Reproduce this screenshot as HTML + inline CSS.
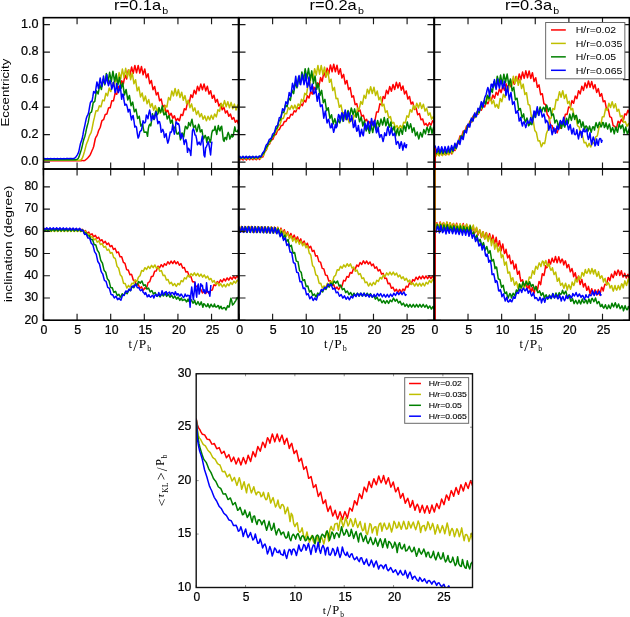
<!DOCTYPE html>
<html><head><meta charset="utf-8"><style>
html,body{margin:0;padding:0;background:#fff;}
svg{display:block;will-change:transform;}
text{font-family:"Liberation Sans",sans-serif;fill:#000;}
.sf{font-family:"Liberation Serif",serif;}
</style></head><body>
<svg width="630" height="617" viewBox="0 0 630 617">
<rect width="630" height="617" fill="#fff"/>
<defs>
<clipPath id="ct0"><rect x="43.45" y="17.67" width="195.0" height="151.32999999999998"/></clipPath>
<clipPath id="cm0"><rect x="43.45" y="169.0" width="195.0" height="151.2"/></clipPath>
<clipPath id="ct1"><rect x="239.0" y="17.67" width="195.0" height="151.32999999999998"/></clipPath>
<clipPath id="cm1"><rect x="239.0" y="169.0" width="195.0" height="151.2"/></clipPath>
<clipPath id="ct2"><rect x="434.4" y="17.67" width="195.0" height="151.32999999999998"/></clipPath>
<clipPath id="cm2"><rect x="434.4" y="169.0" width="195.0" height="151.2"/></clipPath>
<clipPath id="cb"><rect x="196.2" y="373.75" width="276.3" height="213.75"/></clipPath>
</defs>
<polyline points="43.45,160.75 43.45,160.75 44.27,160.76 45.10,160.75 45.92,160.73 46.74,160.75 47.57,160.76 48.39,160.75 49.22,160.73 50.04,160.74 50.86,160.76 51.69,160.74 52.51,160.72 53.33,160.74 54.16,160.76 54.98,160.74 55.81,160.72 56.63,160.74 57.45,160.76 58.28,160.74 59.10,160.72 59.92,160.73 60.75,160.75 61.57,160.73 62.40,160.71 63.22,160.73 64.04,160.75 64.87,160.72 65.69,160.70 66.51,160.72 67.34,160.74 68.16,160.71 68.98,160.69 69.81,160.71 70.63,160.72 71.46,160.70 72.28,160.67 73.10,160.69 73.93,160.71 74.75,160.68 75.57,160.66 76.40,160.67 77.22,160.69 78.05,160.66 78.87,160.63 79.69,160.65 80.52,160.66 81.34,160.64 82.16,160.61 82.99,160.62 83.81,160.64 84.64,160.59 85.46,160.01 86.28,159.23 87.11,158.57 87.93,157.75 88.75,156.78 89.58,155.77 90.40,154.37 91.22,152.45 92.05,150.45 92.87,148.70 93.70,146.52 94.52,142.52 95.34,138.50 96.17,136.76 96.99,135.62 97.81,133.21 98.64,130.48 99.46,128.93 100.29,127.21 101.11,123.73 101.93,120.69 102.76,120.05 103.58,119.66 104.40,117.11 105.23,114.51 106.05,114.26 106.88,114.06 107.70,111.15 108.52,108.03 109.35,107.80 110.17,107.71 110.99,104.33 111.82,100.74 112.64,100.71 113.47,100.89 114.29,97.16 115.11,93.26 115.94,93.66 116.76,94.33 117.58,90.47 118.41,86.53 119.23,87.64 120.05,88.95 120.88,84.91 121.70,80.69 122.53,82.18 123.35,83.87 124.17,79.52 125.00,74.98 125.82,76.86 126.64,79.02 127.47,74.53 128.29,70.05 129.12,72.72 129.94,75.54 130.76,71.26 131.59,67.04 132.41,70.14 133.23,73.33 134.06,69.27 134.88,65.40 135.71,69.12 136.53,72.84 137.35,69.12 138.18,65.40 139.00,69.20 139.82,73.14 140.65,69.78 141.47,66.52 142.29,70.64 143.12,74.77 143.94,71.76 144.77,68.92 145.59,73.36 146.41,77.83 147.24,75.57 148.06,73.74 148.88,78.81 149.71,83.70 150.53,81.99 151.36,80.43 152.18,85.13 153.00,89.66 153.83,88.06 154.65,86.51 155.47,90.76 156.30,94.93 157.12,93.59 157.95,92.45 158.77,96.70 159.59,100.85 160.42,99.87 161.24,99.03 162.06,103.05 162.89,106.91 163.71,106.09 164.53,105.32 165.36,108.89 166.18,112.25 167.01,111.29 167.83,110.23 168.65,113.05 169.48,115.73 170.30,114.49 171.12,113.29 171.95,115.81 172.77,118.23 173.60,116.99 174.42,115.79 175.24,118.26 176.07,120.78 176.89,119.76 177.71,118.46 178.54,119.93 179.36,120.75 180.19,117.69 181.01,114.38 181.83,114.87 182.66,115.52 183.48,112.21 184.30,108.72 185.13,109.26 185.95,109.82 186.78,105.86 187.60,101.71 188.42,102.27 189.25,103.08 190.07,98.99 190.89,94.84 191.72,96.04 192.54,97.56 193.36,93.85 194.19,90.16 195.01,92.06 195.84,94.02 196.66,90.25 197.48,86.34 198.31,88.37 199.13,90.69 199.95,87.36 200.78,84.08 201.60,86.87 202.43,89.76 203.25,86.77 204.07,84.00 204.90,87.42 205.72,90.90 206.54,88.50 207.37,86.30 208.19,90.19 209.02,94.14 209.84,92.44 210.66,90.76 211.49,94.59 212.31,98.35 213.13,96.77 213.96,95.23 214.78,98.79 215.60,102.25 216.43,100.73 217.25,99.29 218.08,102.72 218.90,106.10 219.72,104.80 220.55,103.54 221.37,106.71 222.19,109.74 223.02,108.38 223.84,107.09 224.67,110.06 225.49,112.99 226.31,111.84 227.14,110.74 227.96,113.55 228.78,116.26 229.61,115.12 230.43,114.04 231.26,116.67 232.08,119.27 232.90,118.34 233.73,117.47 234.55,119.98 235.37,122.32 236.20,121.30 237.02,120.30 237.84,122.47 238.67,124.55 239.49,123.45 239.79,122.76" fill="none" stroke="#ff0000" stroke-width="1.5" stroke-linejoin="round" clip-path="url(#ct0)"/>
<polyline points="43.45,160.20 44.13,160.20 44.96,160.23 45.78,160.20 46.60,160.16 47.43,160.20 48.25,160.23 49.07,160.20 49.90,160.16 50.72,160.20 51.55,160.23 52.37,160.20 53.19,160.16 54.02,160.20 54.84,160.23 55.66,160.20 56.49,160.16 57.31,160.20 58.13,160.23 58.96,160.20 59.78,160.16 60.61,160.20 61.43,160.23 62.25,160.20 63.08,160.16 63.90,160.20 64.72,160.23 65.55,160.20 66.37,160.16 67.20,160.20 68.02,160.23 68.84,160.20 69.67,160.16 70.49,160.20 71.31,160.23 72.14,160.20 72.96,160.16 73.79,160.20 74.61,160.23 75.43,160.20 76.26,160.16 77.08,160.20 77.90,160.23 78.73,160.20 79.55,160.16 80.37,160.15 81.20,159.63 82.02,158.58 82.85,156.87 83.67,154.18 84.49,151.50 85.32,148.32 86.14,145.06 86.96,142.82 87.79,140.91 88.61,138.23 89.44,135.62 90.26,134.12 91.08,132.58 91.91,129.38 92.73,125.14 93.55,120.94 94.38,117.64 95.20,113.94 96.03,110.70 96.85,110.65 97.67,111.06 98.50,108.52 99.32,105.80 100.14,106.27 100.97,106.82 101.79,103.61 102.61,100.12 103.44,100.45 104.26,100.84 105.09,97.03 105.91,93.25 106.73,94.42 107.56,95.84 108.38,92.03 109.20,88.05 110.03,89.71 110.85,91.58 111.68,87.40 112.50,82.95 113.32,84.81 114.15,86.89 114.97,82.14 115.79,77.28 116.62,79.80 117.44,82.60 118.27,77.69 119.09,72.60 119.91,75.64 120.74,78.94 121.56,73.84 122.38,69.05 123.21,73.17 124.03,77.37 124.85,72.80 125.68,68.29 126.50,72.73 127.33,77.42 128.15,73.50 128.97,69.74 129.80,74.69 130.62,79.65 131.44,76.17 132.27,72.92 133.09,78.24 133.92,83.84 134.74,81.62 135.56,79.69 136.39,85.38 137.21,90.84 138.03,88.88 138.86,87.02 139.68,92.10 140.51,96.95 141.33,94.96 142.15,92.92 142.98,97.14 143.80,101.07 144.62,98.55 145.45,96.07 146.27,99.88 147.10,103.74 147.92,101.58 148.74,99.54 149.57,103.38 150.39,107.16 151.21,105.28 152.04,103.44 152.86,106.96 153.68,110.18 154.51,107.90 155.33,105.59 156.16,108.61 156.98,111.62 157.80,109.49 158.63,107.44 159.45,110.44 160.27,113.20 161.10,110.65 161.92,108.01 162.75,110.40 163.57,112.76 164.39,109.64 165.22,105.50 166.04,106.19 166.86,107.05 167.69,102.43 168.51,97.50 169.34,98.65 170.16,100.16 170.98,95.57 171.81,91.08 172.63,93.34 173.45,95.91 174.28,92.00 175.10,88.52 175.92,92.14 176.75,95.84 177.57,92.70 178.40,89.62 179.22,93.52 180.04,97.49 180.87,94.82 181.69,92.24 182.51,96.25 183.34,100.24 184.16,97.85 184.99,95.60 185.81,99.68 186.63,103.80 187.46,101.91 188.28,100.09 189.10,103.99 189.93,107.70 190.75,105.72 191.58,103.83 192.40,107.48 193.22,111.12 194.05,109.47 194.87,107.89 195.69,111.31 196.52,114.52 197.34,112.69 198.16,110.88 198.99,113.90 199.81,116.89 200.64,115.22 201.46,113.61 202.28,116.52 203.11,119.27 203.93,117.57 204.75,115.89 205.58,118.45 206.40,120.79 207.23,118.59 208.05,116.23 208.87,118.12 209.70,120.02 210.52,117.61 211.34,115.23 212.17,117.27 212.99,119.29 213.82,116.75 214.64,113.94 215.46,115.44 216.29,116.86 217.11,113.49 217.93,109.76 218.76,110.51 219.58,111.33 220.40,107.07 221.23,103.19 222.05,105.03 222.88,107.07 223.70,103.66 224.52,100.63 225.35,103.67 226.17,106.83 226.99,104.26 227.82,101.66 228.64,104.69 229.47,107.68 230.29,105.01 231.11,102.39 231.94,105.48 232.76,108.69 233.58,106.40 234.41,104.11 235.23,107.13 236.06,110.05 236.88,107.54 237.70,105.02 238.53,107.84 239.35,110.59 239.79,109.69" fill="none" stroke="#bfbf00" stroke-width="1.5" stroke-linejoin="round" clip-path="url(#ct0)"/>
<polyline points="43.45,159.65 43.73,159.59 44.55,159.65 45.37,159.70 46.20,159.65 47.02,159.59 47.85,159.65 48.67,159.70 49.49,159.65 50.32,159.59 51.14,159.65 51.96,159.70 52.79,159.65 53.61,159.59 54.44,159.65 55.26,159.70 56.08,159.65 56.91,159.59 57.73,159.65 58.55,159.70 59.38,159.65 60.20,159.59 61.03,159.65 61.85,159.70 62.67,159.65 63.50,159.59 64.32,159.65 65.14,159.70 65.97,159.65 66.79,159.59 67.62,159.65 68.44,159.70 69.26,159.65 70.09,159.59 70.91,159.65 71.73,159.70 72.56,159.65 73.38,159.59 74.20,159.65 75.03,159.70 75.85,159.65 76.68,159.55 77.50,159.04 78.32,158.21 79.15,156.39 79.97,153.80 80.79,151.35 81.62,148.61 82.44,145.14 83.27,141.29 84.09,138.45 84.91,136.20 85.74,132.69 86.56,128.45 87.38,125.22 88.21,122.40 89.03,117.85 89.86,113.39 90.68,112.42 91.50,112.13 92.33,108.01 93.15,102.99 93.97,102.00 94.80,101.47 95.62,95.84 96.44,90.83 97.27,92.18 98.09,94.07 98.92,89.62 99.74,84.81 100.56,87.01 101.39,89.56 102.21,84.51 103.03,79.17 103.86,81.91 104.68,84.88 105.51,79.12 106.33,73.46 107.15,77.84 107.98,82.51 108.80,77.40 109.62,72.28 110.45,76.99 111.27,81.65 112.10,76.38 112.92,71.18 113.74,76.20 114.57,81.70 115.39,77.62 116.21,73.80 117.04,79.61 117.86,85.12 118.68,81.09 119.51,77.18 120.33,82.73 121.16,88.42 121.98,85.51 122.80,83.07 123.63,89.29 124.45,95.00 125.27,92.19 126.10,89.46 126.92,94.72 127.75,99.94 128.57,97.57 129.39,95.44 130.22,100.67 131.04,105.74 131.86,103.84 132.69,102.13 133.51,107.04 134.34,111.80 135.16,110.39 135.98,109.23 136.81,113.92 137.63,118.53 138.45,117.64 139.28,116.24 140.10,121.99 140.92,126.23 141.75,125.23 142.57,123.65 143.40,129.02 144.22,132.34 145.04,132.21 145.87,131.93 146.69,132.49 147.51,136.33 148.34,128.55 149.16,125.13 149.99,124.10 150.81,125.93 151.63,120.12 152.46,113.75 153.28,117.67 154.10,119.67 154.93,114.71 155.75,111.04 156.58,113.28 157.40,114.71 158.22,112.93 159.05,107.72 159.87,110.45 160.69,112.31 161.52,109.16 162.34,105.71 163.17,111.91 163.99,114.87 164.81,114.42 165.64,112.04 166.46,115.14 167.28,119.10 168.11,116.91 168.93,115.53 169.75,119.08 170.58,123.20 171.40,120.79 172.23,119.92 173.05,126.38 173.87,128.65 174.70,127.11 175.52,127.13 176.34,132.34 177.17,134.09 177.99,134.01 178.82,132.18 179.64,134.74 180.46,139.81 181.29,136.05 182.11,132.86 182.93,134.27 183.76,137.01 184.58,130.72 185.41,126.20 186.23,127.06 187.05,128.95 187.88,127.70 188.70,122.40 189.52,124.68 190.35,125.84 191.17,121.87 191.99,119.28 192.82,124.28 193.64,127.87 194.47,126.82 195.29,125.34 196.11,129.46 196.94,131.63 197.76,128.24 198.58,124.29 199.41,126.21 200.23,131.90 201.06,131.13 201.88,129.69 202.70,134.94 203.53,139.03 204.35,137.23 205.17,135.32 206.00,137.49 206.82,142.44 207.65,137.43 208.47,136.76 209.29,139.39 210.12,142.59 210.94,139.51 211.76,133.21 212.59,130.23 213.41,130.59 214.23,130.13 215.06,126.16 215.88,130.45 216.71,134.47 217.53,129.50 218.35,125.59 219.18,129.39 220.00,130.90 220.82,127.25 221.65,126.21 222.47,132.71 223.30,139.97 224.12,141.45 224.94,137.46 225.77,137.48 226.59,139.66 227.41,134.69 228.24,132.38 229.06,134.79 229.89,139.04 230.71,136.92 231.53,134.57 232.36,136.99 233.18,136.15 234.00,131.48 234.83,126.88 235.65,131.16 236.47,131.40 237.30,131.70 238.12,129.69 238.95,134.92 239.77,139.57 239.79,140.57" fill="none" stroke="#008000" stroke-width="1.5" stroke-linejoin="round" clip-path="url(#ct0)"/>
<polyline points="43.45,158.68 44.20,158.61 45.02,158.68 45.85,158.76 46.67,158.68 47.49,158.61 48.32,158.68 49.14,158.75 49.97,158.68 50.79,158.60 51.61,158.68 52.44,158.75 53.26,158.68 54.08,158.60 54.91,158.67 55.73,158.74 56.56,158.67 57.38,158.59 58.20,158.66 59.03,158.73 59.85,158.66 60.67,158.58 61.50,158.65 62.32,158.72 63.14,158.64 63.97,158.56 64.79,158.63 65.62,158.70 66.44,158.62 67.26,158.53 68.09,158.60 68.91,158.67 69.73,158.59 70.56,158.50 71.38,158.57 72.21,158.64 73.03,158.55 73.85,158.45 74.68,158.11 75.50,157.42 76.32,156.40 77.15,155.12 77.97,153.73 78.80,151.54 79.62,147.57 80.44,143.65 81.27,141.31 82.09,139.11 82.91,134.99 83.74,130.18 84.56,126.79 85.38,122.70 86.21,118.80 87.03,116.17 87.86,115.02 88.68,112.28 89.50,107.49 90.33,102.85 91.15,101.24 91.97,101.61 92.80,96.92 93.62,91.53 94.45,92.14 95.27,93.23 96.09,87.47 96.92,81.92 97.74,85.04 98.56,88.50 99.39,82.55 100.21,77.92 101.04,83.41 101.86,86.45 102.68,81.36 103.51,76.07 104.33,81.16 105.15,83.88 105.98,80.30 106.80,74.49 107.62,81.99 108.45,85.67 109.27,83.17 110.10,80.26 110.92,83.81 111.74,89.24 112.57,86.40 113.39,82.22 114.21,86.11 115.04,92.78 115.86,90.34 116.69,83.39 117.51,88.51 118.33,92.63 119.16,90.55 119.98,85.20 120.80,90.80 121.63,99.28 122.45,94.15 123.28,94.46 124.10,100.98 124.92,105.31 125.75,104.17 126.57,104.63 127.39,107.58 128.22,112.07 129.04,109.44 129.86,109.50 130.69,115.81 131.51,119.89 132.34,116.45 133.16,115.51 133.98,121.00 134.81,127.12 135.63,126.17 136.45,126.96 137.28,133.29 138.10,138.05 138.93,136.35 139.75,132.03 140.57,130.92 141.40,130.50 142.22,126.38 143.04,120.84 143.87,122.55 144.69,122.95 145.52,121.82 146.34,115.09 147.16,116.36 147.99,118.76 148.81,113.42 149.63,110.08 150.46,113.82 151.28,120.78 152.11,117.70 152.93,115.34 153.75,119.00 154.58,118.54 155.40,114.27 156.22,112.07 157.05,118.51 157.87,123.66 158.69,121.40 159.52,121.68 160.34,124.91 161.17,132.33 161.99,130.89 162.81,129.39 163.64,131.91 164.46,137.48 165.28,135.18 166.11,133.57 166.93,139.03 167.76,143.13 168.58,140.83 169.40,136.68 170.23,132.13 171.05,132.50 171.87,130.71 172.70,124.99 173.52,129.72 174.35,134.22 175.17,130.16 175.99,121.83 176.82,122.44 177.64,124.25 178.46,123.48 179.29,125.91 180.11,134.16 180.93,138.32 181.76,133.68 182.58,135.68 183.41,139.06 184.23,144.45 185.05,140.94 185.88,139.64 186.70,143.25 187.52,152.35 188.35,148.16 189.17,149.29 190.00,151.09 190.82,155.43 191.64,143.42 192.47,130.89 193.29,128.75 194.11,130.70 194.94,134.98 195.76,135.20 196.59,138.88 197.41,144.71 198.23,143.51 199.06,142.01 199.88,144.20 200.70,144.86 201.53,140.30 202.35,136.02 203.17,143.70 204.00,155.25 204.82,156.99 205.65,147.97 206.47,146.55 207.29,144.26 208.12,141.70 208.94,144.56 209.76,149.30 210.59,154.92 211.41,145.71 211.89,141.64" fill="none" stroke="#0000ff" stroke-width="1.5" stroke-linejoin="round" clip-path="url(#ct0)"/>
<polyline points="239.00,159.09 239.00,159.09 239.82,159.89 240.65,159.09 241.47,158.29 242.29,159.09 243.12,159.88 243.94,159.08 244.77,158.27 245.59,159.07 246.41,159.86 247.24,159.05 248.06,158.23 248.88,159.02 249.71,159.81 250.53,158.99 251.36,158.17 252.18,158.95 253.00,159.73 253.83,158.90 254.65,158.07 255.47,158.84 256.30,159.61 257.12,158.78 257.95,157.94 258.77,158.70 259.59,159.42 260.42,158.30 261.24,156.95 262.06,157.06 262.89,156.99 263.71,154.70 264.53,152.13 265.36,151.27 266.18,150.31 267.01,147.74 267.83,145.28 268.65,144.64 269.48,144.18 270.30,142.21 271.12,140.27 271.95,139.87 272.77,139.42 273.60,137.35 274.42,135.28 275.24,134.81 276.07,134.35 276.89,132.27 277.71,130.21 278.54,129.81 279.36,129.48 280.19,127.61 281.01,125.79 281.83,125.59 282.66,125.38 283.48,123.52 284.30,121.59 285.13,121.46 285.95,121.46 286.77,119.60 287.60,117.72 288.42,117.93 289.25,118.22 290.07,116.28 290.89,114.27 291.72,114.63 292.54,115.07 293.36,112.98 294.19,110.79 295.01,111.28 295.84,111.86 296.66,109.61 297.48,107.29 298.31,108.02 299.13,108.83 299.95,106.43 300.78,103.93 301.60,104.81 302.43,105.76 303.25,103.10 304.07,100.28 304.90,101.13 305.72,102.05 306.54,98.97 307.37,95.81 308.19,96.87 309.02,98.06 309.84,94.80 310.66,91.42 311.49,92.75 312.31,94.20 313.13,90.72 313.96,87.11 314.78,88.68 315.60,90.40 316.43,86.65 317.25,82.74 318.08,84.47 318.90,86.27 319.72,82.02 320.55,77.58 321.37,79.48 322.19,81.49 323.02,76.82 323.84,72.06 324.67,74.38 325.49,76.96 326.31,72.53 327.14,68.12 327.96,70.99 328.78,73.93 329.61,69.44 330.43,64.94 331.26,68.16 332.08,71.78 332.90,68.02 333.73,64.26 334.55,68.02 335.37,71.78 336.20,68.31 337.02,65.30 337.84,69.81 338.67,74.21 339.49,71.36 340.32,68.68 341.14,73.30 341.96,78.06 342.79,76.09 343.61,74.36 344.43,79.33 345.26,84.04 346.08,82.19 346.91,80.44 347.73,85.04 348.55,89.65 349.38,88.41 350.20,87.51 351.02,92.41 351.85,97.14 352.67,96.40 353.50,95.85 354.32,100.37 355.14,104.67 355.97,104.11 356.79,103.66 357.61,107.64 358.44,111.36 359.26,110.71 360.08,110.08 360.91,113.37 361.73,116.50 362.56,115.79 363.38,115.17 364.20,118.15 365.03,120.96 365.85,120.20 366.67,119.37 367.50,121.80 368.32,124.05 369.15,122.94 369.97,121.64 370.79,123.40 371.62,125.09 372.44,123.60 373.26,121.42 374.09,121.31 374.91,120.70 375.74,116.40 376.56,112.08 377.38,112.00 378.21,112.10 379.03,108.03 379.85,103.87 380.68,104.25 381.50,104.80 382.33,100.64 383.15,96.43 383.97,97.39 384.80,98.50 385.62,94.39 386.44,90.31 387.27,91.96 388.09,93.87 388.91,90.19 389.74,86.54 390.56,88.80 391.39,91.20 392.21,87.79 393.03,84.39 393.86,86.97 394.68,89.55 395.50,85.96 396.33,82.34 397.15,85.03 397.98,88.05 398.80,85.23 399.62,82.69 400.45,86.41 401.27,90.15 402.09,87.91 402.92,85.94 403.74,90.00 404.57,94.03 405.39,92.40 406.21,90.94 407.04,95.02 407.86,99.00 408.68,97.70 409.51,96.48 410.33,100.30 411.15,104.03 411.98,102.97 412.80,102.08 413.63,105.84 414.45,109.49 415.27,108.74 416.10,108.04 416.92,111.46 417.74,114.73 418.57,114.06 419.39,113.50 420.22,116.71 421.04,119.83 421.86,119.38 422.69,118.95 423.51,121.98 424.33,124.92 425.16,124.44 425.98,123.35 426.81,124.79 427.63,126.15 428.45,124.46 429.28,122.71 430.10,123.97 430.92,125.14 431.75,123.07 432.57,120.83 433.39,121.65 434.22,122.43 435.04,119.84 435.34,118.54" fill="none" stroke="#ff0000" stroke-width="1.5" stroke-linejoin="round" clip-path="url(#ct1)"/>
<polyline points="239.00,158.27 239.68,158.27 240.51,159.07 241.33,158.27 242.15,157.47 242.98,158.26 243.80,159.06 244.62,158.26 245.45,157.45 246.27,158.25 247.10,159.04 247.92,158.23 248.74,157.42 249.57,158.21 250.39,159.00 251.21,158.19 252.04,157.38 252.86,158.16 253.68,158.94 254.51,158.13 255.33,157.31 256.16,158.09 256.98,158.86 257.80,158.04 258.63,157.21 259.45,157.97 260.27,158.48 261.10,157.15 261.92,155.68 262.75,155.72 263.57,155.36 264.39,153.12 265.22,150.83 266.04,150.00 266.86,149.06 267.69,146.50 268.51,144.01 269.34,143.13 270.16,142.25 270.98,139.82 271.81,137.51 272.63,136.97 273.45,136.56 274.28,134.57 275.10,132.49 275.92,131.83 276.75,131.01 277.57,128.50 278.40,125.91 279.22,125.10 280.04,124.38 280.87,121.66 281.69,118.89 282.51,118.52 283.34,118.44 284.16,115.96 284.99,113.40 285.81,113.57 286.63,113.72 287.46,110.66 288.28,107.56 289.10,108.17 289.93,109.50 290.75,107.47 291.58,105.43 292.40,107.13 293.22,108.98 294.05,107.09 294.87,105.14 295.69,107.09 296.52,109.10 297.34,106.81 298.16,103.94 298.99,105.01 299.81,106.16 300.64,102.87 301.46,99.32 302.28,100.45 303.11,101.64 303.93,97.57 304.75,93.14 305.58,94.09 306.40,95.14 307.23,90.06 308.05,84.35 308.87,84.91 309.70,85.83 310.52,79.94 311.34,74.29 312.17,76.59 312.99,79.30 313.82,73.96 314.64,68.64 315.46,71.72 316.29,75.02 317.11,70.00 317.93,65.45 318.76,69.81 319.58,74.17 320.40,69.81 321.23,65.45 322.05,69.93 322.88,74.63 323.70,70.81 324.52,67.11 325.35,72.04 326.17,77.10 326.99,73.92 327.82,71.01 328.64,76.51 329.47,82.34 330.29,80.63 331.11,79.23 331.94,85.13 332.76,90.57 333.58,88.83 334.41,87.35 335.23,92.86 336.06,98.74 336.88,98.61 337.70,98.35 338.53,103.10 339.35,107.35 340.17,106.04 341.00,104.93 341.82,109.22 342.65,113.50 343.47,112.94 344.29,112.35 345.12,115.97 345.94,119.39 346.76,118.46 347.59,117.47 348.41,120.29 349.23,122.86 350.06,121.41 350.88,119.55 351.71,120.72 352.53,121.77 353.35,118.57 354.18,115.04 355.00,115.67 355.82,116.38 356.65,112.34 357.47,108.05 358.30,108.70 359.12,109.71 359.94,105.64 360.77,101.51 361.59,102.86 362.41,104.32 363.24,99.96 364.06,95.36 364.89,96.80 365.71,98.48 366.53,93.97 367.36,89.20 368.18,91.16 369.00,93.70 369.83,90.17 370.65,86.77 371.47,90.17 372.30,93.57 373.12,90.21 373.95,87.22 374.77,91.32 375.59,95.55 376.42,93.24 377.24,91.03 378.06,95.41 378.89,99.85 379.71,98.21 380.54,96.79 381.36,101.44 382.18,106.05 383.01,105.09 383.83,104.18 384.65,108.41 385.48,112.46 386.30,111.53 387.13,110.71 387.95,114.48 388.77,118.06 389.60,117.24 390.42,116.53 391.24,119.94 392.07,123.31 392.89,122.82 393.71,122.29 394.54,125.06 395.36,127.66 396.19,126.74 397.01,125.64 397.83,127.45 398.66,129.04 399.48,127.27 400.30,125.43 401.13,126.84 401.95,128.19 402.78,125.58 403.60,122.34 404.42,122.50 405.25,122.93 406.07,119.49 406.89,115.84 407.72,116.37 408.54,117.14 409.37,113.47 410.19,109.68 411.01,110.74 411.84,112.15 412.66,108.78 413.48,105.39 414.31,107.23 415.13,109.26 415.95,106.22 416.78,103.22 417.60,105.58 418.43,108.06 419.25,105.30 420.07,102.71 420.90,105.60 421.72,108.56 422.54,106.26 423.37,104.18 424.19,107.63 425.02,111.13 425.84,109.60 426.66,108.17 427.49,111.72 428.31,115.20 429.13,114.01 429.96,112.84 430.78,116.03 431.61,119.11 432.43,117.89 433.25,116.73 434.08,119.62 434.90,122.40 435.34,122.14" fill="none" stroke="#bfbf00" stroke-width="1.5" stroke-linejoin="round" clip-path="url(#ct1)"/>
<polyline points="239.00,157.44 239.28,156.64 240.10,157.44 240.92,158.24 241.75,157.44 242.57,156.64 243.40,157.44 244.22,158.23 245.04,157.43 245.87,156.62 246.69,157.42 247.51,158.21 248.34,157.40 249.16,156.59 249.99,157.38 250.81,158.17 251.63,157.36 252.46,156.54 253.28,157.33 254.10,158.11 254.93,157.29 255.75,156.47 256.58,157.25 257.40,158.03 258.22,157.20 259.05,156.37 259.87,156.99 260.69,157.25 261.52,155.67 262.34,153.97 263.17,153.68 263.99,152.98 264.81,150.58 265.64,148.16 266.46,147.23 267.28,146.31 268.11,143.92 268.93,141.75 269.75,141.35 270.58,141.00 271.40,138.98 272.23,136.77 273.05,136.00 273.87,135.16 274.70,132.54 275.52,129.70 276.34,128.77 277.17,127.93 277.99,124.64 278.82,121.13 279.64,120.42 280.46,119.87 281.29,116.07 282.11,112.15 282.93,112.21 283.76,112.68 284.58,109.00 285.41,105.09 286.23,105.81 287.05,106.74 287.88,102.49 288.70,97.95 289.52,99.06 290.35,100.37 291.17,95.37 291.99,90.06 292.82,91.66 293.64,93.61 294.47,88.05 295.29,82.23 296.11,84.72 296.94,87.78 297.76,82.34 298.58,76.76 299.41,80.43 300.23,84.31 301.06,78.31 301.88,71.97 302.70,76.06 303.53,80.61 304.35,74.65 305.17,68.66 306.00,73.66 306.82,78.90 307.65,73.43 308.47,68.26 309.29,74.19 310.12,80.16 310.94,75.38 311.76,70.87 312.59,77.18 313.41,83.50 314.23,79.56 315.06,76.00 315.88,82.71 316.71,89.32 317.53,86.30 318.35,83.35 319.18,89.49 320.00,95.45 320.82,92.71 321.65,90.36 322.47,96.58 323.30,102.66 324.12,100.93 324.94,99.40 325.77,105.14 326.59,110.74 327.41,109.28 328.24,107.71 329.06,113.09 329.89,118.46 330.71,116.70 331.53,114.67 332.36,119.33 333.18,123.97 334.00,121.50 334.83,118.63 335.65,121.55 336.47,126.05 337.30,122.93 338.12,119.28 338.95,121.64 339.77,122.95 340.59,119.82 341.42,114.92 342.24,116.52 343.06,121.38 343.89,116.36 344.71,112.48 345.54,115.71 346.36,119.56 347.18,114.26 348.01,110.39 348.83,114.18 349.65,117.00 350.48,111.93 351.30,107.96 352.13,110.74 352.95,114.68 353.77,112.07 354.60,108.87 355.42,112.57 356.24,117.35 357.07,113.93 357.89,112.16 358.72,117.33 359.54,121.82 360.36,119.68 361.19,116.85 362.01,121.04 362.83,126.10 363.66,123.11 364.48,120.64 365.30,126.79 366.13,130.97 366.95,128.60 367.78,124.77 368.60,129.72 369.42,133.34 370.25,129.53 371.07,124.77 371.89,128.86 372.72,132.52 373.54,128.10 374.37,123.29 375.19,126.35 376.01,129.53 376.84,123.19 377.66,120.55 378.48,123.72 379.31,126.65 380.13,123.28 380.96,119.10 381.78,121.79 382.60,125.05 383.43,121.74 384.25,117.48 385.07,121.44 385.90,125.75 386.72,123.18 387.54,118.76 388.37,122.90 389.19,127.32 390.02,125.40 390.84,122.01 391.66,127.42 392.49,130.66 393.31,128.85 394.13,126.38 394.96,131.33 395.78,135.84 396.61,131.51 397.43,128.74 398.25,132.97 399.08,135.63 399.90,131.23 400.72,128.79 401.55,131.44 402.37,134.28 403.20,129.25 404.02,125.63 404.84,127.50 405.67,131.19 406.49,125.89 407.31,121.95 408.14,125.81 408.96,128.85 409.78,126.73 410.61,123.81 411.43,127.49 412.26,132.40 413.08,129.55 413.90,127.77 414.73,131.29 415.55,135.78 416.37,134.06 417.20,132.03 418.02,136.13 418.85,138.92 419.67,135.51 420.49,132.50 421.32,134.53 422.14,136.97 422.96,133.58 423.79,129.59 424.61,131.56 425.44,133.87 426.26,129.97 427.08,127.23 427.91,129.41 428.73,132.90 429.55,129.40 430.38,126.13 431.20,129.24 432.02,133.58 432.85,129.76 433.67,127.25 434.50,131.18 435.32,136.96 435.34,136.30" fill="none" stroke="#008000" stroke-width="1.5" stroke-linejoin="round" clip-path="url(#ct1)"/>
<polyline points="239.00,157.17 239.75,156.37 240.57,157.17 241.40,157.97 242.22,157.17 243.04,156.36 243.87,157.16 244.69,157.96 245.52,157.15 246.34,156.35 247.16,157.14 247.99,157.93 248.81,157.12 249.63,156.31 250.46,157.10 251.28,157.89 252.11,157.08 252.93,156.26 253.75,157.04 254.58,157.83 255.40,157.01 256.22,156.18 257.05,156.96 257.87,157.74 258.69,156.91 259.52,156.04 260.34,156.38 261.17,156.39 261.99,154.58 262.81,152.64 263.64,151.65 264.46,150.39 265.28,147.79 266.11,145.25 266.93,144.36 267.76,143.57 268.58,141.32 269.40,139.27 270.23,138.91 271.05,138.53 271.87,136.41 272.70,133.97 273.52,133.26 274.35,132.64 275.17,129.71 275.99,126.48 276.82,125.82 277.64,125.34 278.46,121.65 279.29,117.68 280.11,117.38 280.93,117.37 281.76,113.09 282.58,108.69 283.41,109.51 284.23,110.75 285.05,106.43 285.88,101.67 286.70,102.83 287.52,104.18 288.35,98.54 289.17,92.51 290.00,94.26 290.82,96.35 291.64,89.93 292.47,83.24 293.29,86.23 294.11,89.78 294.94,82.52 295.76,76.22 296.59,83.63 297.41,86.58 298.23,80.62 299.06,75.60 299.88,81.19 300.70,84.69 301.53,79.44 302.35,74.33 303.17,79.08 304.00,84.70 304.82,80.92 305.65,73.94 306.47,81.41 307.29,87.31 308.12,84.81 308.94,77.09 309.76,84.86 310.59,91.30 311.41,88.29 312.24,84.11 313.06,90.96 313.88,93.99 314.71,92.58 315.53,88.11 316.35,93.95 317.18,101.28 318.00,96.96 318.83,93.44 319.65,101.56 320.47,106.62 321.30,105.60 322.12,104.73 322.94,110.82 323.77,118.20 324.59,114.40 325.41,110.89 326.24,117.42 327.06,122.92 327.89,120.17 328.71,119.27 329.53,123.71 330.36,127.81 331.18,127.61 332.00,123.41 332.83,128.22 333.65,132.25 334.48,128.96 335.30,124.45 336.12,127.82 336.95,126.46 337.77,119.14 338.59,114.46 339.42,116.15 340.24,121.12 341.07,116.67 341.89,112.65 342.71,114.50 343.54,120.99 344.36,115.19 345.18,109.92 346.01,113.67 346.83,119.49 347.66,116.17 348.48,112.06 349.30,117.48 350.13,121.57 350.95,119.72 351.77,115.47 352.60,121.26 353.42,127.54 354.24,126.47 355.07,120.24 355.89,126.13 356.72,131.18 357.54,130.20 358.36,125.48 359.19,131.13 360.01,136.59 360.83,132.55 361.66,129.27 362.48,134.11 363.31,135.80 364.13,129.78 364.95,123.61 365.78,126.03 366.60,129.48 367.42,123.89 368.25,121.20 369.07,126.46 369.90,130.05 370.72,124.48 371.54,118.44 372.37,123.02 373.19,125.77 374.01,122.14 374.84,120.11 375.66,128.25 376.48,132.81 377.31,131.18 378.13,126.95 378.96,133.73 379.78,137.43 380.60,134.98 381.43,134.80 382.25,138.13 383.07,141.55 383.90,137.94 384.72,132.86 385.55,135.45 386.37,135.60 387.19,129.30 388.02,126.75 388.84,131.05 389.66,135.14 390.49,132.35 391.31,127.40 392.14,132.44 392.96,135.48 393.78,134.64 394.61,133.22 395.43,138.21 396.25,144.49 397.08,142.76 397.90,141.48 398.72,143.22 399.55,148.34 400.37,145.17 401.20,141.72 402.02,144.92 402.84,150.20 403.67,146.18 404.49,143.00 405.31,146.73 406.14,147.74 406.77,144.02" fill="none" stroke="#0000ff" stroke-width="1.5" stroke-linejoin="round" clip-path="url(#ct1)"/>
<polyline points="434.40,189.64 434.40,189.64 435.22,155.75 436.05,153.73 436.87,151.77 437.69,153.46 438.52,155.19 439.34,153.34 440.17,151.50 440.99,153.26 441.81,155.00 442.64,153.12 443.46,151.26 444.28,153.01 445.11,154.77 445.93,152.92 446.76,151.08 447.58,152.83 448.40,154.57 449.23,152.70 450.05,150.81 450.87,152.49 451.70,154.01 452.52,151.64 453.35,149.05 454.17,149.87 454.99,150.55 455.82,147.54 456.64,144.36 457.46,144.10 458.29,143.52 459.11,139.45 459.93,135.92 460.76,136.36 461.58,136.97 462.41,134.03 463.23,131.04 464.05,131.60 464.88,132.16 465.70,129.12 466.52,126.08 467.35,126.65 468.17,127.22 469.00,124.19 469.82,121.16 470.64,121.71 471.47,122.21 472.29,119.10 473.11,116.06 473.94,116.78 474.76,117.67 475.59,115.06 476.41,112.47 477.23,113.43 478.06,114.27 478.88,111.43 479.70,108.56 480.53,109.34 481.35,110.23 482.17,107.58 483.00,104.97 483.82,105.97 484.65,106.95 485.47,104.31 486.29,101.59 487.12,102.62 487.94,103.73 488.76,100.93 489.59,98.02 490.41,99.21 491.24,100.54 492.06,97.75 492.88,94.97 493.71,96.60 494.53,98.26 495.35,95.33 496.18,92.18 497.00,93.60 497.83,95.13 498.65,91.93 499.47,88.78 500.30,90.67 501.12,92.67 501.94,89.52 502.77,86.26 503.59,88.24 504.42,90.32 505.24,87.01 506.06,83.72 506.89,86.10 507.71,88.58 508.53,85.33 509.36,81.96 510.18,84.30 511.00,86.64 511.83,82.97 512.65,79.23 513.48,81.68 514.30,84.22 515.12,80.45 515.95,76.60 516.77,79.22 517.59,81.89 518.42,77.92 519.24,73.93 520.07,76.81 520.89,79.77 521.71,75.91 522.54,72.06 523.36,75.20 524.18,78.38 525.01,74.60 525.83,70.84 526.66,74.22 527.48,77.74 528.30,74.32 529.13,70.96 529.95,74.64 530.77,78.46 531.60,75.51 532.42,72.72 533.24,77.07 534.07,81.58 534.89,79.57 535.72,77.74 536.54,82.47 537.36,87.26 538.19,85.95 539.01,84.88 539.83,89.80 540.66,94.67 541.48,94.03 542.31,93.68 543.13,98.73 543.95,103.78 544.78,104.09 545.60,104.70 546.42,109.71 547.25,114.61 548.07,115.70 548.90,116.87 549.72,121.30 550.54,125.30 551.37,125.59 552.19,125.64 553.01,128.81 553.84,131.39 554.66,130.21 555.48,128.90 556.31,130.98 557.13,132.76 557.96,130.32 558.78,127.40 559.60,127.79 560.43,128.12 561.25,124.90 562.07,121.46 562.90,121.46 563.72,121.43 564.55,117.87 565.37,114.27 566.19,114.35 567.02,114.58 567.84,110.85 568.66,106.90 569.49,107.20 570.31,107.79 571.14,104.10 571.96,100.55 572.78,101.87 573.61,103.31 574.43,99.82 575.25,96.10 576.08,97.32 576.90,98.59 577.73,94.61 578.55,90.64 579.37,92.23 580.20,93.96 581.02,90.09 581.84,86.22 582.67,88.23 583.49,90.36 584.31,86.58 585.14,82.87 585.96,85.35 586.79,87.88 587.61,84.31 588.43,80.90 589.26,84.00 590.08,87.24 590.90,84.35 591.73,81.56 592.55,85.01 593.38,88.70 594.20,86.56 595.02,84.63 595.85,88.60 596.67,92.42 597.49,90.44 598.32,88.59 599.14,92.46 599.97,96.36 600.79,94.87 601.61,93.60 602.44,97.70 603.26,101.79 604.08,101.07 604.91,100.70 605.73,105.12 606.55,109.33 607.38,109.07 608.20,108.94 609.03,112.93 609.85,116.83 610.67,117.10 611.50,117.56 612.32,121.62 613.14,125.53 613.97,125.96 614.79,126.18 615.62,128.26 616.44,128.70 617.26,124.84 618.09,121.16 618.91,122.04 619.73,123.44 620.56,121.37 621.38,119.31 622.21,120.74 623.03,121.83 623.85,118.23 624.68,114.08 625.50,113.97 626.32,115.05 627.15,112.60 627.97,110.18 628.79,111.84 629.62,113.63 630.44,111.50 630.74,110.39" fill="none" stroke="#ff0000" stroke-width="1.5" stroke-linejoin="round" clip-path="url(#ct2)"/>
<polyline points="434.40,154.55 435.08,154.51 435.91,156.25 436.73,154.39 437.55,152.52 438.38,154.24 439.20,155.97 440.02,154.08 440.85,152.19 441.67,153.90 442.50,155.61 443.32,153.72 444.14,151.84 444.97,153.55 445.79,155.25 446.61,153.35 447.44,151.43 448.26,153.09 449.08,154.73 449.91,152.75 450.73,150.73 451.56,152.20 452.38,153.43 453.20,150.86 454.03,148.12 454.85,148.86 455.67,149.52 456.50,146.49 457.32,143.02 458.15,142.85 458.97,142.69 459.79,139.22 460.62,136.05 461.44,136.59 462.26,137.19 463.09,134.16 463.91,131.09 464.74,131.63 465.56,132.16 466.38,129.08 467.21,126.00 468.03,126.50 468.85,127.00 469.68,123.90 470.50,120.81 471.32,121.29 472.15,121.77 472.97,118.69 473.80,115.71 474.62,116.46 475.44,117.31 476.27,114.59 477.09,111.82 477.91,112.59 478.74,113.38 479.56,110.41 480.39,107.28 481.21,108.05 482.03,108.82 482.86,105.32 483.68,101.70 484.50,102.68 485.33,103.72 486.15,99.94 486.98,96.26 487.80,98.18 488.62,100.87 489.45,98.84 490.27,97.07 491.09,100.47 491.92,103.75 492.74,102.02 493.56,100.36 494.39,103.72 495.21,107.03 496.04,105.66 496.86,104.29 497.68,107.08 498.51,108.27 499.33,103.36 500.15,98.45 500.98,99.93 501.80,101.82 502.63,98.12 503.45,94.21 504.27,95.94 505.10,97.50 505.92,92.62 506.74,87.51 507.57,89.20 508.39,91.17 509.22,86.11 510.04,81.02 510.86,83.42 511.69,86.05 512.51,81.11 513.33,76.27 514.16,79.61 514.98,83.54 515.80,79.93 516.63,76.52 517.45,80.92 518.28,85.29 519.10,82.12 519.92,79.17 520.75,83.84 521.57,88.54 522.39,86.12 523.22,84.09 524.04,89.31 524.87,94.56 525.69,93.32 526.51,92.69 527.34,98.62 528.16,104.45 528.98,104.66 529.81,105.45 530.63,111.49 531.46,117.14 532.28,118.29 533.10,119.74 533.93,125.04 534.75,130.25 535.57,131.60 536.40,132.49 537.22,136.80 538.05,140.86 538.87,140.96 539.69,140.65 540.52,143.86 541.34,146.70 542.16,145.18 542.99,142.78 543.81,143.37 544.63,143.64 545.46,139.46 546.28,134.02 547.11,131.70 547.93,129.69 548.75,124.63 549.58,119.51 550.40,118.40 551.22,117.82 552.05,113.16 552.87,108.52 553.70,108.86 554.52,109.43 555.34,104.72 556.17,99.49 556.99,99.66 557.81,100.34 558.64,95.70 559.46,91.80 560.29,94.39 561.11,97.18 561.93,93.76 562.76,90.67 563.58,94.49 564.40,98.56 565.23,96.49 566.05,94.54 566.87,98.93 567.70,103.46 568.52,102.31 569.35,101.31 570.17,105.71 570.99,109.94 571.82,109.05 572.64,108.44 573.46,112.82 574.29,117.19 575.11,117.21 575.94,117.48 576.76,121.77 577.58,125.92 578.41,126.49 579.23,127.02 580.05,131.05 580.88,135.04 581.70,135.42 582.53,135.68 583.35,139.32 584.17,142.77 585.00,142.68 585.82,142.37 586.64,145.08 587.47,147.00 588.29,145.20 589.11,143.40 589.94,145.20 590.76,146.95 591.59,144.73 592.41,142.17 593.23,142.99 594.06,143.71 594.88,140.55 595.70,136.86 596.53,136.43 597.35,135.87 598.18,131.73 599.00,127.34 599.82,126.43 600.65,125.58 601.47,121.32 602.29,116.92 603.12,116.68 603.94,116.83 604.77,112.76 605.59,108.60 606.41,109.35 607.24,110.45 608.06,106.75 608.88,103.35 609.71,105.38 610.53,107.58 611.35,104.55 612.18,101.77 613.00,104.73 613.83,107.87 614.65,105.77 615.47,103.81 616.30,107.45 617.12,111.32 617.94,110.28 618.77,109.32 619.59,113.13 620.42,116.86 621.24,116.12 622.06,115.49 622.89,119.01 623.71,122.52 624.53,122.10 625.36,121.54 626.18,124.10 627.01,126.36 627.83,124.96 628.65,123.48 629.48,125.52 630.30,127.45 630.74,126.86" fill="none" stroke="#bfbf00" stroke-width="1.5" stroke-linejoin="round" clip-path="url(#ct2)"/>
<polyline points="434.40,151.80 434.68,149.80 435.50,151.80 436.32,153.80 437.15,151.80 437.97,149.80 438.80,151.80 439.62,153.80 440.44,151.80 441.27,149.80 442.09,151.80 442.91,153.79 443.74,151.74 444.56,149.67 445.39,151.57 446.21,153.46 447.03,151.32 447.86,149.16 448.68,150.98 449.50,152.78 450.33,150.57 451.15,148.34 451.98,149.98 452.80,151.47 453.62,148.84 454.45,146.11 455.27,147.29 456.09,148.40 456.92,145.29 457.74,141.82 458.57,142.19 459.39,142.62 460.21,139.26 461.04,135.99 461.86,136.76 462.68,137.50 463.51,134.18 464.33,130.77 465.15,131.31 465.98,131.86 466.80,128.43 467.63,125.05 468.45,125.68 469.27,126.33 470.10,122.98 470.92,119.60 471.74,120.17 472.57,120.77 473.39,117.50 474.22,114.45 475.04,115.61 475.86,116.91 476.69,114.07 477.51,110.93 478.33,111.77 479.16,112.55 479.98,108.65 480.81,104.76 481.63,106.20 482.45,107.94 483.28,104.41 484.10,100.69 484.92,102.37 485.75,104.07 486.57,99.79 487.39,95.25 488.22,96.91 489.04,98.63 489.87,93.59 490.69,88.31 491.51,90.25 492.34,92.50 493.16,87.21 493.98,81.77 494.81,84.44 495.63,87.38 496.46,81.80 497.28,76.15 498.10,79.74 498.93,84.08 499.75,79.58 500.57,75.08 501.40,79.58 502.22,84.08 503.05,79.30 503.87,74.18 504.69,78.13 505.52,82.40 506.34,77.98 507.16,74.10 507.99,79.65 508.81,85.21 509.63,81.93 510.46,79.05 511.28,85.01 512.11,90.96 512.93,88.83 513.75,87.22 514.58,93.63 515.40,99.86 516.22,98.85 517.05,98.18 517.87,103.68 518.70,110.34 519.52,108.78 520.34,108.48 521.17,112.34 521.99,117.72 522.81,116.19 523.64,113.88 524.46,119.27 525.29,122.06 526.11,120.66 526.93,118.02 527.76,121.22 528.58,125.78 529.40,124.49 530.23,121.96 531.05,124.27 531.87,124.64 532.70,118.70 533.52,114.64 534.35,114.51 535.17,117.47 535.99,112.80 536.82,109.24 537.64,112.12 538.46,115.05 539.29,110.64 540.11,107.01 540.94,109.97 541.76,111.95 542.58,109.16 543.41,107.24 544.23,108.13 545.05,111.69 545.88,107.16 546.70,105.11 547.53,107.93 548.35,111.47 549.17,109.37 550.00,107.71 550.82,110.89 551.64,115.70 552.47,114.15 553.29,113.97 554.12,117.98 554.94,123.07 555.76,120.86 556.59,120.05 557.41,121.76 558.23,126.73 559.06,125.29 559.88,122.17 560.70,125.19 561.53,128.39 562.35,124.37 563.18,121.77 564.00,125.60 564.82,127.18 565.65,121.97 566.47,118.14 567.29,120.46 568.12,123.33 568.94,118.09 569.77,114.12 570.59,117.45 571.41,120.38 572.24,116.64 573.06,113.19 573.88,115.93 574.71,119.44 575.53,115.73 576.36,115.32 577.18,118.61 578.00,123.39 578.83,122.13 579.65,119.60 580.47,122.10 581.30,127.17 582.12,125.17 582.94,121.88 583.77,125.57 584.59,129.81 585.42,126.53 586.24,125.94 587.06,127.17 587.89,131.37 588.71,129.07 589.53,126.11 590.36,129.34 591.18,132.40 592.01,129.11 592.83,126.79 593.65,126.97 594.48,130.04 595.30,125.56 596.12,122.62 596.95,125.45 597.77,127.61 598.60,124.63 599.42,122.33 600.24,124.85 601.07,126.99 601.89,125.40 602.71,122.42 603.54,123.17 604.36,127.53 605.18,126.34 606.01,122.83 606.83,125.94 607.66,129.08 608.48,126.28 609.30,123.93 610.13,127.31 610.95,132.08 611.77,129.57 612.60,127.48 613.42,130.30 614.25,133.85 615.07,130.02 615.89,127.01 616.72,130.24 617.54,132.27 618.36,128.38 619.19,124.10 620.01,125.98 620.84,128.61 621.66,126.09 622.48,124.80 623.31,127.85 624.13,133.13 624.95,129.94 625.78,127.04 626.60,130.74 627.42,134.12 628.25,132.06 629.07,128.90 629.90,133.30 630.72,135.34 630.74,134.45" fill="none" stroke="#008000" stroke-width="1.5" stroke-linejoin="round" clip-path="url(#ct2)"/>
<polyline points="434.40,148.78 435.15,145.95 435.97,149.12 436.80,152.27 437.62,149.40 438.44,146.51 439.27,149.60 440.09,152.67 440.92,149.72 441.74,146.74 442.56,149.74 443.39,152.71 444.21,149.67 445.03,146.61 445.86,149.54 446.68,152.45 447.51,149.35 448.33,146.23 449.15,149.09 449.98,151.95 450.80,148.79 451.62,145.55 452.45,148.13 453.27,150.59 454.09,146.95 454.92,143.26 455.74,145.57 456.57,147.89 457.39,144.16 458.21,140.37 459.04,142.50 459.86,144.55 460.68,140.46 461.51,136.25 462.33,137.94 463.16,139.55 463.98,135.04 464.80,130.36 465.63,131.63 466.45,132.94 467.27,128.38 468.10,123.90 468.92,125.46 469.75,127.03 470.57,122.58 471.39,118.05 472.22,119.51 473.04,121.08 473.86,116.87 474.69,112.96 475.51,115.21 476.33,116.61 477.16,113.47 477.98,108.28 478.81,109.34 479.63,110.68 480.45,105.98 481.28,101.75 482.10,102.82 482.92,107.00 483.75,103.19 484.57,98.33 485.40,95.98 486.22,94.21 487.04,90.25 487.87,87.58 488.69,90.19 489.51,96.38 490.34,90.88 491.16,84.15 491.99,84.22 492.81,87.59 493.63,83.18 494.46,79.63 495.28,85.18 496.10,89.43 496.93,84.75 497.75,79.03 498.57,84.46 499.40,88.07 500.22,83.76 501.05,80.29 501.87,84.10 502.69,88.40 503.52,85.36 504.34,81.16 505.16,87.19 505.99,95.42 506.81,91.15 507.64,86.33 508.46,94.01 509.28,99.97 510.11,95.40 510.93,92.41 511.75,98.28 512.58,104.39 513.40,102.73 514.23,101.61 515.05,107.36 515.87,113.27 516.70,112.48 517.52,110.69 518.34,114.09 519.17,121.04 519.99,119.94 520.81,117.35 521.64,123.16 522.46,126.02 523.29,122.49 524.11,121.75 524.93,124.67 525.76,127.64 526.58,124.47 527.40,120.58 528.23,122.83 529.05,123.15 529.88,121.18 530.70,117.60 531.52,119.95 532.35,122.75 533.17,118.07 533.99,110.93 534.82,111.75 535.64,117.14 536.47,111.04 537.29,106.76 538.11,111.73 538.94,115.42 539.76,110.91 540.58,109.59 541.41,112.87 542.23,117.09 543.06,115.74 543.88,113.91 544.70,117.15 545.53,122.84 546.35,120.22 547.17,121.14 548.00,122.84 548.82,130.18 549.64,126.78 550.47,124.41 551.29,129.95 552.12,134.65 552.94,132.18 553.76,127.83 554.59,130.14 555.41,133.24 556.23,130.18 557.06,126.03 557.88,128.89 558.71,129.47 559.53,124.74 560.35,120.46 561.18,122.39 562.00,124.24 562.82,121.05 563.65,117.29 564.47,123.84 565.30,125.14 566.12,124.18 566.94,120.63 567.77,125.94 568.59,129.87 569.41,126.74 570.24,124.61 571.06,129.51 571.88,133.97 572.71,130.55 573.53,128.26 574.36,134.03 575.18,134.78 576.00,133.83 576.83,129.71 577.65,134.69 578.47,138.94 579.30,134.27 580.12,131.10 580.95,131.66 581.77,137.37 582.59,131.67 583.42,128.87 584.24,131.48 585.06,131.97 585.89,130.52 586.71,129.15 587.54,135.62 588.36,139.45 589.18,137.05 590.01,132.83 590.83,140.04 591.65,144.69 592.48,140.04 593.30,136.89 594.12,139.56 594.95,145.98 595.77,144.46 596.60,138.92 597.42,142.80 598.24,145.32 599.07,139.98 599.89,138.41 600.71,138.65 601.54,142.26 602.17,139.73" fill="none" stroke="#0000ff" stroke-width="1.5" stroke-linejoin="round" clip-path="url(#ct2)"/>
<polyline points="43.45,229.77 43.45,229.77 44.27,230.67 45.10,229.77 45.92,228.87 46.74,229.77 47.57,230.67 48.39,229.77 49.22,228.87 50.04,229.77 50.86,230.67 51.69,229.78 52.51,228.88 53.33,229.78 54.16,230.68 54.98,229.78 55.81,228.89 56.63,229.79 57.45,230.69 58.28,229.79 59.10,228.90 59.92,229.80 60.75,230.70 61.57,229.81 62.40,228.91 63.22,229.82 64.04,230.72 64.87,229.83 65.69,228.93 66.51,229.84 67.34,230.74 68.16,229.85 68.98,228.96 69.81,229.87 70.63,230.77 71.46,229.88 72.28,228.99 73.10,229.90 73.93,230.81 74.75,229.92 75.57,229.03 76.40,229.94 77.22,230.85 78.05,229.96 78.87,229.05 79.69,229.98 80.52,230.93 81.34,230.07 82.16,229.28 82.99,230.49 83.81,231.79 84.64,231.16 85.46,230.55 86.28,231.94 87.11,233.35 87.93,232.70 88.75,232.05 89.58,233.51 90.40,235.01 91.22,234.40 92.05,233.77 92.87,235.27 93.70,236.78 94.52,236.08 95.34,235.37 96.17,236.91 96.99,238.49 97.81,237.83 98.64,237.23 99.46,239.00 100.29,240.83 101.11,240.29 101.93,239.69 102.76,241.40 103.58,243.05 104.40,242.22 105.23,241.34 106.05,242.94 106.88,244.59 107.70,243.79 108.52,243.03 109.35,244.87 110.17,246.77 110.99,246.12 111.82,245.49 112.64,247.49 113.47,249.50 114.29,248.93 115.11,248.40 115.94,250.52 116.76,252.68 117.58,252.31 118.41,252.02 119.23,254.41 120.05,256.87 120.88,256.82 121.70,256.83 122.53,259.52 123.35,262.33 124.17,262.77 125.00,263.35 125.82,266.55 126.64,269.65 127.47,269.93 128.29,269.94 129.12,272.40 129.94,274.77 130.76,274.54 131.59,274.38 132.41,276.97 133.23,279.93 134.06,280.62 134.88,280.88 135.71,283.08 136.53,285.07 137.35,284.44 138.18,283.95 139.00,286.15 139.82,288.26 140.65,287.57 141.47,286.84 142.29,288.66 143.12,290.36 143.94,289.29 144.77,287.90 145.59,288.49 146.41,288.56 147.24,285.68 148.06,282.62 148.88,282.15 149.71,281.83 150.53,279.16 151.36,276.49 152.18,276.43 153.00,276.37 153.83,273.76 154.65,271.18 155.47,271.10 156.30,271.00 157.12,268.44 157.95,266.17 158.77,266.91 159.59,267.84 160.42,266.25 161.24,264.71 162.06,265.80 162.89,266.88 163.71,265.32 164.53,263.68 165.36,264.53 166.18,265.31 167.01,263.50 167.83,261.79 168.65,262.85 169.48,263.99 170.30,262.55 171.12,261.13 171.95,262.34 172.77,263.56 173.60,262.22 174.42,260.91 175.24,262.30 176.07,263.78 176.89,262.75 177.71,261.79 178.54,263.48 179.36,265.20 180.19,264.34 181.01,263.65 181.83,265.74 182.66,267.96 183.48,267.67 184.30,267.41 185.13,269.74 185.95,272.05 186.78,271.82 187.60,271.63 188.42,274.09 189.25,276.57 190.07,276.48 190.89,276.46 191.72,279.12 192.54,281.79 193.36,281.82 194.19,281.74 195.01,284.20 195.84,286.64 196.66,286.41 197.48,286.06 198.31,288.17 199.13,290.25 199.95,289.74 200.78,289.19 201.60,291.15 202.43,292.99 203.25,292.05 204.07,290.90 204.90,292.20 205.72,293.50 206.54,292.20 207.37,290.90 208.19,292.20 209.02,293.50 209.84,292.15 210.66,290.19 211.49,290.31 212.31,290.14 213.13,287.36 213.96,284.80 214.78,285.19 215.60,285.64 216.43,283.56 217.25,281.57 218.08,282.32 218.90,283.19 219.72,281.52 220.55,279.89 221.37,280.89 222.19,281.92 223.02,280.37 223.84,278.83 224.67,279.89 225.49,280.96 226.31,279.45 227.14,277.94 227.96,279.05 228.78,280.16 229.61,278.67 230.43,277.18 231.26,278.28 232.08,279.38 232.90,277.88 233.73,276.39 234.55,277.51 235.37,278.65 236.20,277.22 237.02,275.80 237.84,277.02 238.67,278.25 239.49,276.89 239.79,276.16" fill="none" stroke="#ff0000" stroke-width="1.5" stroke-linejoin="round" clip-path="url(#cm0)"/>
<polyline points="43.45,230.66 43.66,230.66 44.48,231.56 45.31,230.66 46.13,229.76 46.95,230.66 47.78,231.56 48.60,230.66 49.43,229.76 50.25,230.66 51.07,231.56 51.90,230.66 52.72,229.76 53.54,230.66 54.37,231.56 55.19,230.66 56.02,229.76 56.84,230.66 57.66,231.56 58.49,230.66 59.31,229.76 60.13,230.66 60.96,231.56 61.78,230.66 62.61,229.76 63.43,230.66 64.25,231.56 65.08,230.66 65.90,229.76 66.72,230.66 67.55,231.56 68.37,230.66 69.19,229.76 70.02,230.66 70.84,231.56 71.67,230.66 72.49,229.76 73.31,230.66 74.14,231.56 74.96,230.66 75.78,229.76 76.61,230.66 77.43,231.56 78.26,230.66 79.08,229.73 79.90,230.66 80.73,231.60 81.55,230.66 82.37,229.69 83.20,230.77 84.02,232.10 84.85,231.64 85.67,231.26 86.49,232.95 87.32,234.63 88.14,234.21 88.96,233.81 89.79,235.52 90.61,237.28 91.43,236.90 92.26,236.48 93.08,238.16 93.91,239.84 94.73,239.29 95.55,238.72 96.38,240.39 97.20,242.10 98.02,241.55 98.85,241.00 99.67,242.77 100.50,244.58 101.32,244.05 102.14,243.51 102.97,245.38 103.79,247.29 104.61,246.78 105.44,246.27 106.26,248.24 107.09,250.26 107.91,249.77 108.73,249.23 109.56,251.24 110.38,253.30 111.20,252.83 112.03,252.47 112.85,254.86 113.67,257.55 114.50,257.95 115.32,258.55 116.15,262.17 116.97,266.06 117.79,267.17 118.62,268.03 119.44,271.40 120.26,274.82 121.09,275.77 121.91,276.72 122.74,280.07 123.56,283.22 124.38,283.54 125.21,283.45 126.03,285.84 126.85,287.94 127.68,286.87 128.50,285.41 129.33,286.40 130.15,287.30 130.97,285.38 131.80,283.17 132.62,283.53 133.44,283.89 134.27,281.65 135.09,279.67 135.91,280.59 136.74,281.57 137.56,279.78 138.39,277.19 139.21,276.43 140.03,275.73 140.86,273.04 141.68,270.48 142.50,270.72 143.33,271.27 144.15,269.43 144.98,267.67 145.80,268.56 146.62,269.50 147.45,267.89 148.27,266.31 149.09,267.36 149.92,268.43 150.74,266.90 151.57,265.37 152.39,266.46 153.21,267.61 154.04,266.22 154.86,264.95 155.68,266.54 156.51,268.33 157.33,267.69 158.16,267.14 158.98,269.23 159.80,271.31 160.63,270.88 161.45,270.62 162.27,273.08 163.10,275.59 163.92,275.48 164.74,275.29 165.57,277.59 166.39,279.93 167.22,279.68 168.04,279.40 168.86,281.65 169.69,283.78 170.51,283.14 171.33,282.30 172.16,283.96 172.98,285.59 173.81,284.59 174.63,283.53 175.45,285.00 176.28,286.39 177.10,285.03 177.92,283.41 178.75,284.18 179.57,284.79 180.40,282.71 181.22,280.60 182.04,281.14 182.87,281.78 183.69,279.80 184.51,277.78 185.34,278.36 186.16,278.97 186.98,277.05 187.81,275.24 188.63,276.12 189.46,276.99 190.28,275.28 191.10,273.61 191.93,274.60 192.75,275.66 193.57,274.23 194.40,272.91 195.22,274.27 196.05,275.69 196.87,274.54 197.69,273.41 198.52,274.90 199.34,276.37 200.16,275.24 200.99,274.11 201.81,275.60 202.64,277.09 203.46,276.00 204.28,274.93 205.11,276.48 205.93,278.05 206.75,277.06 207.58,276.13 208.40,277.92 209.22,279.79 210.05,279.10 210.87,278.42 211.70,280.30 212.52,282.14 213.34,281.37 214.17,280.62 214.99,282.46 215.81,284.28 216.64,283.45 217.46,282.57 218.29,284.21 219.11,285.81 219.93,284.80 220.76,283.78 221.58,285.33 222.40,286.84 223.23,285.68 224.05,284.46 224.88,285.73 225.70,286.90 226.52,285.37 227.35,283.79 228.17,284.77 228.99,285.76 229.82,284.17 230.64,282.57 231.46,283.55 232.29,284.51 233.11,282.85 233.94,281.20 234.76,282.16 235.58,283.13 236.41,281.54 237.23,279.98 238.05,281.06 238.88,282.15 239.70,280.67 239.79,280.42" fill="none" stroke="#bfbf00" stroke-width="1.5" stroke-linejoin="round" clip-path="url(#cm0)"/>
<polyline points="43.45,229.99 43.92,229.99 44.75,230.89 45.57,229.99 46.39,229.09 47.22,229.99 48.04,230.89 48.86,229.99 49.69,229.09 50.51,229.99 51.34,230.90 52.16,230.00 52.98,229.10 53.81,230.00 54.63,230.90 55.45,230.00 56.28,229.10 57.10,230.01 57.92,230.91 58.75,230.01 59.57,229.12 60.40,230.02 61.22,230.92 62.04,230.03 62.87,229.13 63.69,230.03 64.51,230.94 65.34,230.04 66.16,229.15 66.99,230.06 67.81,230.96 68.63,230.07 69.46,229.17 70.28,230.08 71.10,230.99 71.93,230.10 72.75,229.20 73.58,230.11 74.40,231.02 75.22,230.13 76.05,229.24 76.87,230.15 77.69,231.07 78.52,230.17 79.34,229.26 80.17,230.20 80.99,231.16 81.81,230.37 82.64,229.90 83.46,231.57 84.28,233.33 85.11,233.08 85.93,232.73 86.75,234.41 87.58,236.15 88.40,235.87 89.23,235.63 90.05,237.54 90.87,239.57 91.70,239.58 92.52,239.66 93.34,242.00 94.17,244.43 94.99,244.70 95.82,245.00 96.64,247.66 97.46,250.55 98.29,251.51 99.11,252.89 99.93,256.71 100.76,260.42 101.58,261.76 102.41,263.04 103.23,266.63 104.05,270.20 104.88,271.25 105.70,272.21 106.52,275.54 107.35,278.87 108.17,279.79 108.99,280.79 109.82,284.19 110.64,287.32 111.47,287.72 112.29,287.86 113.11,290.24 113.94,292.36 114.76,291.80 115.58,291.30 116.41,293.48 117.23,295.59 118.06,294.92 118.88,294.22 119.70,295.92 120.53,297.22 121.35,295.55 122.17,293.71 123.00,294.55 123.82,295.45 124.65,293.76 125.47,292.07 126.29,292.94 127.12,293.75 127.94,291.89 128.76,289.88 129.59,290.36 130.41,290.80 131.23,288.63 132.06,286.51 132.88,287.09 133.71,287.70 134.53,285.73 135.35,283.79 136.18,284.48 137.00,285.21 137.82,283.39 138.65,281.51 139.47,282.27 140.30,283.17 141.12,281.78 141.94,280.96 142.77,283.18 143.59,285.56 144.41,285.20 145.24,284.74 146.06,286.91 146.89,289.07 147.71,288.59 148.53,288.05 149.36,290.02 150.18,291.94 151.00,291.22 151.83,290.46 152.65,292.28 153.47,294.07 154.30,293.26 155.12,292.47 155.95,294.34 156.77,296.19 157.59,295.36 158.42,294.37 159.24,295.76 160.06,296.94 160.89,295.40 161.71,293.81 162.54,294.85 163.36,295.98 164.18,294.66 165.01,293.44 165.83,294.89 166.65,296.38 167.48,295.30 168.30,294.23 169.13,295.74 169.95,297.25 170.77,296.18 171.60,295.12 172.42,296.66 173.24,298.20 174.07,297.14 174.89,296.08 175.72,297.63 176.54,299.17 177.36,298.10 178.19,297.09 179.01,298.65 179.83,300.42 180.66,298.76 181.48,298.07 182.30,300.53 183.13,300.03 183.95,300.12 184.78,299.29 185.60,300.19 186.42,301.91 187.25,301.11 188.07,299.07 188.89,301.13 189.72,301.97 190.54,300.94 191.37,299.85 192.19,301.56 193.01,303.19 193.84,302.24 194.66,300.18 195.48,303.43 196.31,304.53 197.13,303.23 197.96,301.60 198.78,303.27 199.60,305.13 200.43,304.00 201.25,301.87 202.07,304.65 202.90,307.29 203.72,303.76 204.54,304.13 205.37,305.34 206.19,306.61 207.02,306.26 207.84,303.78 208.66,305.84 209.49,307.81 210.31,305.66 211.13,304.24 211.96,305.82 212.78,306.83 213.61,306.55 214.43,304.08 215.25,306.50 216.08,307.00 216.90,306.99 217.72,305.58 218.55,305.83 219.37,308.67 220.20,307.06 221.02,306.29 221.84,308.80 222.67,308.86 223.49,307.65 224.31,307.62 225.14,308.15 225.96,310.03 226.78,307.88 227.61,305.66 228.43,307.01 229.26,306.89 230.08,302.17 230.90,298.30 231.73,300.89 232.55,305.05 233.37,304.25 234.20,303.15 235.02,301.69 235.85,300.58 236.67,298.38 237.49,297.55 238.32,299.23 239.14,301.03 239.79,300.94" fill="none" stroke="#008000" stroke-width="1.5" stroke-linejoin="round" clip-path="url(#cm0)"/>
<polyline points="43.45,228.66 43.47,227.76 44.29,228.66 45.11,229.56 45.94,228.66 46.76,227.76 47.58,228.66 48.41,229.56 49.23,228.67 50.05,227.77 50.88,228.67 51.70,229.58 52.53,228.68 53.35,227.78 54.17,228.69 55.00,229.60 55.82,228.70 56.64,227.81 57.47,228.72 58.29,229.63 59.12,228.74 59.94,227.85 60.76,228.76 61.59,229.67 62.41,228.78 63.23,227.89 64.06,228.81 64.88,229.72 65.71,228.84 66.53,227.96 67.35,228.88 68.18,229.80 69.00,228.92 69.82,228.04 70.65,228.96 71.47,229.88 72.30,229.01 73.12,228.13 73.94,229.06 74.77,229.99 75.59,229.12 76.41,228.25 77.24,229.18 78.06,230.13 78.88,229.25 79.71,228.36 80.53,229.33 81.36,230.61 82.18,230.36 83.00,230.34 83.83,232.37 84.65,234.41 85.47,234.35 86.30,234.22 87.12,236.13 87.95,238.09 88.77,238.08 89.59,238.16 90.42,240.49 91.24,243.17 92.06,243.97 92.89,244.87 93.71,248.13 94.54,251.56 95.36,252.82 96.18,254.16 97.01,257.83 97.83,261.48 98.65,262.75 99.48,263.99 100.30,267.62 101.12,271.45 101.95,272.92 102.77,274.06 103.60,277.29 104.42,280.38 105.24,280.94 106.07,281.46 106.89,284.39 107.71,287.35 108.54,287.81 109.36,288.25 110.19,291.21 111.01,294.36 111.83,294.81 112.66,294.64 113.48,296.42 114.30,298.03 115.13,297.06 115.95,296.19 116.78,297.94 117.60,299.68 118.42,298.85 119.25,298.01 120.07,299.54 120.89,300.31 121.72,297.75 122.54,295.05 123.36,295.20 124.19,295.37 125.01,293.10 125.84,290.93 126.66,291.47 127.48,292.18 128.31,290.51 129.13,288.93 129.95,289.89 130.78,290.58 131.60,286.85 132.43,286.51 133.25,285.82 134.07,287.08 134.90,285.69 135.72,284.06 136.54,285.66 137.37,287.77 138.19,287.76 139.02,287.66 139.84,289.76 140.66,290.68 141.49,290.16 142.31,289.40 143.13,292.36 143.96,292.84 144.78,294.54 145.60,292.65 146.43,294.30 147.25,296.84 148.08,296.34 148.90,294.70 149.72,296.50 150.55,297.15 151.37,296.62 152.19,295.33 153.02,295.69 153.84,298.07 154.67,295.87 155.49,294.42 156.31,294.83 157.14,296.34 157.96,295.53 158.78,292.52 159.61,294.96 160.43,295.76 161.26,294.10 162.08,290.78 162.90,293.34 163.73,295.07 164.55,292.78 165.37,292.08 166.20,291.65 167.02,295.09 167.85,292.85 168.67,292.63 169.49,292.03 170.32,295.10 171.14,293.15 171.96,292.58 172.79,292.67 173.61,294.18 174.43,294.92 175.26,291.64 176.08,293.29 176.91,295.19 177.73,293.67 178.55,294.17 179.38,296.04 180.20,295.84 181.02,294.01 181.85,294.92 182.67,296.33 183.50,297.57 184.32,296.61 185.14,294.00 185.97,295.90 186.79,296.43 187.61,295.18 188.44,295.59 189.26,295.47 190.09,307.31 190.91,293.60 191.73,287.11 192.56,294.09 193.38,299.67 194.20,291.81 195.03,282.07 195.85,291.07 196.67,297.23 197.50,286.72 198.32,284.02 199.15,294.08 199.97,291.08 200.79,283.69 201.62,285.93 202.44,285.39 203.26,291.85 204.09,289.63 204.91,293.43 205.74,292.57 206.56,282.74 207.38,291.19 208.21,292.46 209.03,291.83 209.85,296.21 210.68,287.44 210.88,285.05" fill="none" stroke="#0000ff" stroke-width="1.5" stroke-linejoin="round" clip-path="url(#cm0)"/>
<polyline points="239.00,229.32 239.00,229.32 239.82,232.12 240.65,229.33 241.47,226.53 242.29,229.33 243.12,232.13 243.94,229.33 244.77,226.53 245.59,229.34 246.41,232.14 247.24,229.34 248.06,226.55 248.88,229.35 249.71,232.16 250.53,229.36 251.36,226.57 252.18,229.38 253.00,232.19 253.83,229.39 254.65,226.60 255.47,229.41 256.30,232.22 257.12,229.43 257.95,226.64 258.77,229.46 259.59,232.27 260.42,229.48 261.24,226.70 262.06,229.51 262.89,232.33 263.71,229.55 264.53,226.77 265.36,229.58 266.18,232.40 267.01,229.62 267.83,226.85 268.65,229.67 269.48,232.49 270.30,229.72 271.12,226.94 271.95,229.77 272.77,232.59 273.60,229.82 274.42,227.10 275.24,229.88 276.07,232.61 276.89,229.95 277.71,227.33 278.54,230.04 279.36,232.78 280.19,230.41 281.01,228.13 281.83,230.99 282.66,233.81 283.48,231.67 284.30,229.66 285.13,232.62 285.95,235.54 286.77,233.64 287.60,231.73 288.42,234.50 289.25,237.20 290.07,235.28 290.89,233.41 291.72,236.05 292.54,238.65 293.36,236.84 294.19,235.07 295.01,237.62 295.84,240.13 296.66,238.43 297.48,236.81 298.31,239.34 299.13,241.84 299.95,240.34 300.78,238.90 301.60,241.39 302.43,243.82 303.25,242.39 304.07,241.01 304.90,243.36 305.72,245.67 306.54,244.40 307.37,243.22 308.19,245.64 309.02,248.06 309.84,247.12 310.66,246.27 311.49,248.83 312.31,251.39 313.13,250.79 313.96,250.34 314.78,253.13 315.60,255.94 316.43,255.77 317.25,255.69 318.08,258.62 318.90,261.62 319.72,261.85 320.55,262.16 321.37,265.27 322.19,268.35 323.02,268.61 323.84,268.91 324.67,272.03 325.49,275.11 326.31,275.32 327.14,275.43 327.96,278.22 328.78,280.97 329.61,280.88 330.43,280.71 331.26,283.24 332.08,285.63 332.90,285.11 333.73,284.61 334.55,286.88 335.37,289.03 336.20,288.17 337.02,287.02 337.84,288.39 338.67,289.67 339.49,288.08 340.32,286.31 341.14,286.61 341.96,286.42 342.79,283.28 343.61,280.34 344.43,280.61 345.26,281.03 346.08,278.71 346.91,276.41 347.73,276.89 348.55,277.31 349.38,274.91 350.20,272.50 351.02,272.89 351.85,273.30 352.67,270.91 353.50,268.49 354.32,268.90 355.14,269.36 355.97,267.13 356.79,264.98 357.61,265.68 358.44,266.44 359.26,264.46 360.08,262.56 360.91,263.47 361.73,264.39 362.56,262.57 363.38,260.89 364.20,262.21 365.03,263.64 365.85,262.31 366.67,261.02 367.50,262.55 368.32,264.10 369.15,262.96 369.97,261.95 370.79,263.82 371.62,265.73 372.44,264.85 373.26,264.06 374.09,266.16 374.91,268.29 375.74,267.62 376.56,266.90 377.38,268.95 378.21,270.99 379.03,270.25 379.85,269.58 380.68,271.80 381.50,274.11 382.33,273.70 383.15,273.35 383.97,275.84 384.80,278.40 385.62,278.28 386.44,278.23 387.27,280.99 388.09,283.70 388.91,283.49 389.74,283.22 390.56,285.76 391.39,288.24 392.21,287.82 393.03,287.23 393.86,289.22 394.68,291.14 395.50,290.22 396.33,289.19 397.15,290.82 397.98,292.27 398.80,290.87 399.62,289.47 400.45,290.87 401.27,292.27 402.09,290.77 402.92,289.04 403.74,289.90 404.57,290.62 405.39,288.42 406.21,286.16 407.04,286.68 407.86,287.22 408.68,285.03 409.51,282.92 410.33,283.55 411.15,284.12 411.98,281.87 412.80,279.63 413.63,280.24 414.45,280.95 415.27,278.97 416.10,277.16 416.92,278.33 417.74,279.53 418.57,277.95 419.39,276.38 420.22,277.64 421.04,278.92 421.86,277.42 422.69,275.96 423.51,277.32 424.33,278.72 425.16,277.32 425.98,275.92 426.81,277.32 427.63,278.72 428.45,277.32 429.28,275.92 430.10,277.32 430.92,278.72 431.75,277.32 432.57,275.92 433.39,277.32 434.22,278.72 435.04,277.32 435.34,276.55" fill="none" stroke="#ff0000" stroke-width="1.5" stroke-linejoin="round" clip-path="url(#cm1)"/>
<polyline points="239.00,229.32 239.21,229.32 240.03,232.12 240.86,229.33 241.68,226.53 242.50,229.33 243.33,232.13 244.15,229.33 244.98,226.54 245.80,229.34 246.62,232.14 247.45,229.35 248.27,226.55 249.09,229.36 249.92,232.17 250.74,229.38 251.57,226.58 252.39,229.39 253.21,232.20 254.04,229.41 254.86,226.63 255.68,229.44 256.51,232.25 257.33,229.47 258.16,226.68 258.98,229.50 259.80,232.32 260.63,229.53 261.45,226.75 262.27,229.57 263.10,232.40 263.92,229.62 264.74,226.84 265.57,229.67 266.39,232.50 267.22,229.72 268.04,226.95 268.86,229.78 269.69,232.61 270.51,229.85 271.33,227.08 272.16,229.92 272.98,232.74 273.81,229.99 274.63,227.29 275.45,230.07 276.28,232.81 277.10,230.16 277.92,227.57 278.75,230.36 279.57,233.30 280.40,231.19 281.22,229.20 282.04,232.28 282.87,235.23 283.69,233.14 284.51,231.09 285.34,233.92 286.16,236.73 286.98,234.77 287.81,232.92 288.63,235.85 289.46,238.81 290.28,237.20 291.10,235.62 291.93,238.49 292.75,241.21 293.57,239.46 294.40,237.72 295.22,240.26 296.05,242.74 296.87,241.02 297.69,239.36 298.52,241.81 299.34,244.19 300.16,242.56 300.99,241.01 301.81,243.39 302.64,245.77 303.46,244.33 304.28,242.95 305.11,245.33 305.93,247.75 306.75,246.69 307.58,245.86 308.40,249.16 309.22,253.09 310.05,253.90 310.87,255.36 311.70,260.62 312.52,265.46 313.34,266.48 314.17,267.30 314.99,271.12 315.81,274.77 316.64,275.27 317.46,275.83 318.29,279.54 319.11,283.21 319.93,283.50 320.76,283.31 321.58,285.81 322.40,288.09 323.23,287.22 324.05,285.88 324.88,286.88 325.70,287.60 326.52,285.41 327.35,283.31 328.17,284.16 328.99,285.07 329.82,283.20 330.64,281.28 331.46,282.06 332.29,282.69 333.11,280.07 333.94,276.74 334.76,275.96 335.58,275.41 336.41,272.52 337.23,269.72 338.05,269.89 338.88,270.33 339.70,268.27 340.53,266.33 341.35,267.26 342.17,268.27 343.00,266.53 343.82,264.83 344.64,265.95 345.47,267.07 346.29,265.40 347.12,263.77 347.94,265.00 348.76,266.29 349.59,264.91 350.41,263.85 351.23,265.87 352.06,268.08 352.88,267.56 353.71,267.00 354.53,269.14 355.35,271.28 356.18,270.65 357.00,270.05 357.82,272.27 358.65,274.53 359.47,274.04 360.29,273.63 361.12,276.07 361.94,278.54 362.77,278.19 363.59,277.81 364.41,280.17 365.24,282.66 366.06,282.39 366.88,282.03 367.71,284.22 368.53,286.03 369.36,284.63 370.18,283.15 371.00,284.42 371.83,285.63 372.65,284.01 373.47,282.36 374.30,283.49 375.12,284.45 375.95,282.41 376.77,280.27 377.59,280.88 378.42,281.53 379.24,279.47 380.06,277.41 380.89,278.15 381.71,278.90 382.53,276.89 383.36,274.92 384.18,275.82 385.01,276.69 385.83,274.76 386.65,272.86 387.48,273.86 388.30,275.01 389.12,273.54 389.95,272.14 390.77,273.54 391.60,274.94 392.42,273.54 393.24,272.14 394.07,273.57 394.89,275.16 395.71,274.10 396.54,273.15 397.36,275.04 398.19,276.93 399.01,275.97 399.83,274.98 400.66,276.81 401.48,278.64 402.30,277.68 403.13,276.71 403.95,278.53 404.77,280.33 405.60,279.31 406.42,278.29 407.25,280.09 408.07,281.90 408.89,280.96 409.72,280.12 410.54,282.29 411.36,284.52 412.19,283.88 413.01,283.04 413.84,284.65 414.66,286.05 415.48,284.65 416.31,283.25 417.13,284.65 417.95,286.05 418.78,284.65 419.60,283.25 420.43,284.65 421.25,286.05 422.07,284.65 422.90,283.25 423.72,284.65 424.54,285.96 425.37,284.23 426.19,282.33 427.01,283.17 427.84,284.02 428.66,282.19 429.49,280.44 430.31,281.50 431.13,282.57 431.96,280.86 432.78,279.16 433.60,280.28 434.43,281.42 435.25,279.79 435.34,279.51" fill="none" stroke="#bfbf00" stroke-width="1.5" stroke-linejoin="round" clip-path="url(#cm1)"/>
<polyline points="239.00,229.55 239.47,229.55 240.30,232.35 241.12,229.55 241.94,226.75 242.77,229.55 243.59,232.35 244.41,229.56 245.24,226.76 246.06,229.56 246.89,232.37 247.71,229.57 248.53,226.78 249.36,229.58 250.18,232.39 251.00,229.60 251.83,226.81 252.65,229.62 253.47,232.43 254.30,229.64 255.12,226.85 255.95,229.66 256.77,232.48 257.59,229.69 258.42,226.91 259.24,229.73 260.06,232.55 260.89,229.77 261.71,226.99 262.54,229.81 263.36,232.64 264.18,229.86 265.01,227.09 265.83,229.92 266.65,232.75 267.48,229.98 268.30,227.21 269.13,230.04 269.95,232.88 270.77,230.12 271.60,227.36 272.42,230.20 273.24,233.02 274.07,230.28 274.89,227.60 275.72,230.38 276.54,233.11 277.36,230.67 278.19,228.66 279.01,232.12 279.83,235.53 280.66,233.64 281.48,231.80 282.30,235.05 283.13,238.28 283.95,236.59 284.78,235.01 285.60,238.40 286.42,241.83 287.25,240.58 288.07,239.45 288.89,243.08 289.72,246.73 290.54,245.89 291.37,245.29 292.19,249.27 293.01,253.22 293.84,252.83 294.66,252.59 295.48,256.81 296.31,261.14 297.13,261.37 297.96,261.71 298.78,266.22 299.60,270.77 300.43,271.46 301.25,272.46 302.07,276.99 302.90,280.68 303.72,280.21 304.54,279.73 305.37,283.10 306.19,286.53 307.02,286.31 307.84,285.99 308.66,289.07 309.49,291.99 310.31,291.31 311.13,290.53 311.96,292.99 312.78,295.45 313.61,294.83 314.43,294.02 315.25,295.74 316.08,296.96 316.90,294.98 317.72,293.04 318.55,293.96 319.37,294.75 320.20,292.67 321.02,290.57 321.84,291.29 322.67,292.05 323.49,290.02 324.31,287.99 325.14,288.77 325.96,289.55 326.78,287.54 327.61,285.53 328.43,286.31 329.26,287.09 330.08,285.08 330.90,283.10 331.73,283.96 332.55,284.89 333.37,283.02 334.20,281.13 335.02,282.12 335.85,283.24 336.67,281.78 337.49,281.00 338.32,283.50 339.14,286.00 339.96,285.51 340.79,285.07 341.61,287.43 342.44,289.75 343.26,289.19 344.08,288.51 344.91,290.58 345.73,292.61 346.55,291.81 347.38,290.95 348.20,292.82 349.02,294.61 349.85,293.54 350.67,292.47 351.50,294.17 352.32,295.82 353.14,294.58 353.97,293.25 354.79,294.65 355.61,296.05 356.44,294.65 357.26,293.25 358.09,294.65 358.91,296.05 359.73,294.65 360.56,293.25 361.38,294.65 362.20,296.05 363.03,294.65 363.85,293.25 364.68,294.65 365.50,296.05 366.32,294.65 367.15,293.25 367.97,294.65 368.79,296.05 369.62,294.76 370.44,293.63 371.27,295.43 372.09,297.31 372.91,296.40 373.74,295.48 374.56,297.29 375.38,299.11 376.21,298.14 377.03,297.18 377.85,299.02 378.68,300.84 379.50,299.89 380.33,299.00 381.15,300.93 381.97,302.81 382.80,301.77 383.62,300.57 384.44,301.98 385.27,303.38 386.09,301.98 386.92,300.58 387.74,301.98 388.56,303.38 389.39,301.92 390.21,300.15 391.03,300.97 391.86,301.73 392.68,299.81 393.51,298.14 394.33,299.60 395.15,301.25 395.98,300.22 396.80,299.28 397.62,301.18 398.45,303.06 399.27,302.10 400.09,301.19 400.92,303.12 401.74,305.06 402.57,304.14 403.39,303.12 404.21,304.79 405.04,306.44 405.86,305.27 406.68,304.07 407.51,305.62 408.33,307.12 409.16,305.76 409.98,304.36 410.80,305.76 411.63,307.16 412.45,305.76 413.27,304.36 414.10,305.76 414.92,307.16 415.75,305.76 416.57,304.36 417.39,305.76 418.22,307.16 419.04,305.76 419.86,304.36 420.69,305.76 421.51,307.16 422.33,305.76 423.16,304.36 423.98,305.76 424.81,307.25 425.63,306.08 426.45,304.97 427.28,306.68 428.10,308.36 428.92,307.15 429.75,305.92 430.57,307.49 431.40,309.04 432.22,307.78 433.04,306.51 433.87,308.03 434.69,309.53 435.34,308.65" fill="none" stroke="#008000" stroke-width="1.5" stroke-linejoin="round" clip-path="url(#cm1)"/>
<polyline points="239.00,229.55 239.02,226.75 239.84,229.55 240.66,232.35 241.49,229.55 242.31,226.75 243.13,229.55 243.96,232.36 244.78,229.56 245.60,226.76 246.43,229.57 247.25,232.37 248.08,229.58 248.90,226.79 249.72,229.59 250.55,232.40 251.37,229.61 252.19,226.82 253.02,229.63 253.84,232.45 254.67,229.66 255.49,226.87 256.31,229.69 257.14,232.51 257.96,229.73 258.78,226.94 259.61,229.76 260.43,232.59 261.26,229.81 262.08,227.03 262.90,229.86 263.73,232.69 264.55,229.91 265.37,227.14 266.20,229.98 267.02,232.81 267.85,230.04 268.67,227.28 269.49,230.12 270.32,232.96 271.14,230.20 271.96,227.44 272.79,230.29 273.61,233.10 274.43,230.38 275.26,227.71 276.08,230.63 276.91,233.77 277.73,231.76 278.55,229.92 279.38,233.37 280.20,236.74 281.02,235.00 281.85,233.39 282.67,236.91 283.50,240.45 284.32,239.12 285.14,237.91 285.97,241.64 286.79,245.42 287.61,244.56 288.44,243.88 289.26,248.00 290.09,252.22 290.91,252.26 291.73,252.71 292.56,257.64 293.38,262.50 294.20,262.99 295.03,263.38 295.85,267.86 296.67,272.20 297.50,272.42 298.32,272.87 299.15,277.43 299.97,281.70 300.79,281.67 301.62,281.50 302.44,285.12 303.26,288.61 304.09,288.27 304.91,287.95 305.74,291.39 306.56,294.78 307.38,294.37 308.21,293.68 309.03,296.31 309.85,298.72 310.68,297.58 311.50,296.39 312.33,298.44 313.15,300.48 313.97,299.30 314.80,297.98 315.62,299.29 316.44,299.94 317.27,297.35 318.09,294.71 318.91,294.64 319.74,294.64 320.56,291.98 321.39,289.40 322.21,289.89 323.03,290.78 323.86,289.04 324.68,287.27 325.50,287.99 326.33,288.24 327.15,285.94 327.98,283.96 328.80,284.89 329.62,286.06 330.45,284.94 331.27,284.44 332.09,286.90 332.92,289.17 333.74,288.58 334.57,288.02 335.39,290.32 336.21,292.74 337.04,292.39 337.86,291.98 338.68,294.23 339.51,296.27 340.33,295.41 341.15,294.49 341.98,296.31 342.80,298.08 343.63,297.00 344.45,295.88 345.27,297.57 346.10,299.24 346.92,298.08 347.74,296.87 348.57,298.39 349.39,299.82 350.22,298.20 351.04,296.31 351.86,297.10 352.69,297.87 353.51,295.96 354.33,294.25 355.16,295.39 355.98,296.54 356.81,294.93 357.63,293.37 358.45,294.67 359.28,296.05 360.10,294.65 360.92,293.25 361.75,294.65 362.57,296.05 363.40,294.65 364.22,293.25 365.04,294.77 365.87,296.41 366.69,295.30 367.51,294.16 368.34,295.73 369.16,297.16 369.98,295.76 370.81,294.36 371.63,295.76 372.46,297.16 373.28,295.76 374.10,294.36 374.93,295.68 375.75,296.86 376.57,295.18 377.40,293.50 378.22,294.70 379.05,296.05 379.87,294.76 380.69,293.58 381.52,295.25 382.34,296.90 383.16,295.69 383.99,294.36 384.81,295.76 385.64,297.16 386.46,295.76 387.28,294.36 388.11,295.76 388.93,297.16 389.75,295.70 390.58,294.14 391.40,295.32 392.22,296.46 393.05,294.81 393.87,293.19 394.70,294.35 395.52,295.49 396.34,293.82 397.17,292.18 397.99,293.41 398.81,294.72 399.64,293.32 400.46,291.92 401.29,293.32 402.11,294.72 402.93,293.32 403.76,291.92 404.58,293.50 405.40,295.35 406.23,294.51 406.43,294.12" fill="none" stroke="#0000ff" stroke-width="1.5" stroke-linejoin="round" clip-path="url(#cm1)"/>
<polyline points="434.40,226.90 434.40,225.90 435.22,228.20 436.05,226.65 436.87,222.64 437.69,225.72 438.52,228.07 439.34,225.00 440.17,222.00 440.99,225.32 441.81,228.63 442.64,224.24 443.46,222.73 444.28,224.74 445.11,227.79 445.93,225.67 446.76,222.32 447.58,224.63 448.40,229.37 449.23,225.08 450.05,222.71 450.87,225.77 451.70,229.47 452.52,225.63 453.35,223.46 454.17,225.69 454.99,229.72 455.82,225.88 456.64,223.18 457.46,227.41 458.29,229.71 459.11,226.71 459.93,224.87 460.76,227.03 461.58,229.55 462.41,227.43 463.23,223.59 464.05,227.87 464.88,231.03 465.70,227.28 466.52,224.39 467.35,227.95 468.17,231.04 469.00,227.71 469.82,225.61 470.64,227.58 471.47,231.75 472.29,228.99 473.11,226.27 473.94,230.12 474.76,232.99 475.59,231.16 476.41,228.00 477.23,231.50 478.06,234.91 478.88,232.18 479.70,230.06 480.53,233.17 481.35,237.48 482.17,234.94 483.00,231.79 483.82,235.77 484.65,238.57 485.47,234.89 486.29,232.60 487.12,236.01 487.94,240.24 488.76,236.36 489.59,233.63 490.41,237.49 491.24,241.59 492.06,238.33 492.88,235.13 493.71,239.41 494.53,243.86 495.35,241.12 496.18,237.30 497.00,242.89 497.83,246.42 498.65,244.07 499.47,240.73 500.30,245.15 501.12,250.76 501.94,246.96 502.77,243.94 503.59,248.76 504.42,253.49 505.24,252.43 506.06,249.26 506.89,254.25 507.71,257.92 508.53,256.70 509.36,255.10 510.18,260.43 511.00,263.85 511.83,262.67 512.65,260.63 513.48,264.28 514.30,269.00 515.12,266.95 515.95,264.12 516.77,269.92 517.59,274.36 518.42,272.66 519.24,271.16 520.07,277.25 520.89,281.26 521.71,280.66 522.54,279.76 523.36,282.90 524.18,287.23 525.01,284.59 525.83,282.46 526.66,285.77 527.48,289.15 528.30,287.51 529.13,284.96 529.95,288.48 530.77,292.07 531.60,290.32 532.42,287.43 533.24,290.62 534.07,293.43 534.89,289.78 535.72,286.30 536.54,287.73 537.36,290.58 538.19,286.11 539.01,281.55 539.83,282.58 540.66,284.65 541.48,278.86 542.31,273.72 543.13,274.62 543.95,275.49 544.78,271.36 545.60,265.86 546.42,267.78 547.25,267.35 548.07,263.95 548.90,259.42 549.72,262.94 550.54,264.05 551.37,260.84 552.19,258.10 553.01,260.77 553.84,262.24 554.66,259.81 555.48,256.49 556.31,260.06 557.13,262.74 557.96,259.81 558.78,256.84 559.60,259.88 560.43,262.73 561.25,260.92 562.07,259.06 562.90,260.64 563.72,264.88 564.55,262.48 565.37,260.82 566.19,263.72 567.02,267.84 567.84,265.57 568.66,264.61 569.49,268.10 570.31,271.84 571.14,270.43 571.96,268.46 572.78,271.73 573.61,276.66 574.43,274.71 575.25,272.67 576.08,277.01 576.90,280.87 577.73,277.84 578.55,276.11 579.37,280.97 580.20,284.59 581.02,281.57 581.84,279.39 582.67,283.30 583.49,287.01 584.31,284.53 585.14,283.44 585.96,286.50 586.79,290.22 587.61,289.28 588.43,286.37 589.26,290.04 590.08,293.75 590.90,291.58 591.73,288.67 592.55,292.01 593.38,294.57 594.20,293.08 595.02,289.73 595.85,291.65 596.67,295.01 597.49,292.56 598.32,289.64 599.14,292.99 599.97,295.12 600.79,290.66 601.61,287.19 602.44,288.41 603.26,290.95 604.08,287.10 604.91,284.37 605.73,284.44 606.55,284.65 607.38,281.12 608.20,277.46 609.03,278.59 609.85,280.70 610.67,277.33 611.50,274.12 612.32,275.97 613.14,277.78 613.97,275.25 614.79,271.21 615.62,273.45 616.44,275.28 617.26,272.35 618.09,270.01 618.91,271.64 619.73,275.45 620.56,273.48 621.38,270.69 622.21,274.36 623.03,276.97 623.85,275.73 624.68,273.16 625.50,275.84 626.32,277.95 627.15,275.79 627.97,274.27 628.79,277.68 629.62,280.00 630.44,277.87 630.74,275.49" fill="none" stroke="#ff0000" stroke-width="1.5" stroke-linejoin="round" clip-path="url(#cm2)"/>
<polyline points="434.40,226.34 434.61,226.40 435.43,229.45 436.26,225.34 437.08,223.44 437.90,226.51 438.73,228.17 439.55,224.97 440.38,222.73 441.20,225.16 442.02,227.24 442.85,225.79 443.67,222.43 444.49,225.09 445.32,229.38 446.14,225.41 446.97,221.99 447.79,225.46 448.61,227.95 449.44,225.16 450.26,222.81 451.08,225.43 451.91,228.58 452.73,226.73 453.56,223.43 454.38,226.50 455.20,229.47 456.03,226.54 456.85,224.12 457.67,226.47 458.50,230.49 459.32,226.17 460.14,223.60 460.97,226.11 461.79,229.71 462.62,227.23 463.44,224.78 464.26,226.81 465.09,230.24 465.91,227.16 466.73,224.08 467.56,226.98 468.38,230.74 469.21,226.97 470.03,224.99 470.85,228.18 471.68,231.16 472.50,228.13 473.32,225.07 474.15,230.16 474.97,232.10 475.80,230.70 476.62,227.35 477.44,230.57 478.27,234.00 479.09,232.38 479.91,229.98 480.74,232.64 481.56,236.99 482.38,234.88 483.21,231.64 484.03,236.48 484.86,239.23 485.68,236.82 486.50,232.91 487.33,238.70 488.15,241.47 488.97,237.76 489.80,235.83 490.62,240.21 491.45,245.72 492.27,241.73 493.09,239.02 493.92,243.97 494.74,249.20 495.56,245.53 496.39,243.31 497.21,247.74 498.04,251.98 498.86,249.56 499.68,247.10 500.51,251.52 501.33,257.69 502.15,254.90 502.98,254.97 503.80,260.45 504.62,265.16 505.45,263.20 506.27,261.94 507.10,267.52 507.92,273.23 508.74,272.38 509.57,272.06 510.39,276.39 511.21,281.31 512.04,278.59 512.86,277.85 513.69,281.55 514.51,285.17 515.33,283.97 516.16,281.69 516.98,283.40 517.80,288.02 518.63,284.88 519.45,283.77 520.28,287.45 521.10,288.75 521.92,286.46 522.75,283.52 523.57,286.01 524.39,288.17 525.22,285.18 526.04,280.68 526.86,283.75 527.69,284.01 528.51,280.67 529.34,277.02 530.16,277.87 530.98,278.17 531.81,274.37 532.63,270.65 533.45,272.24 534.28,274.26 535.10,269.27 535.93,266.30 536.75,267.73 537.57,269.17 538.40,265.59 539.22,262.85 540.04,264.35 540.87,266.59 541.69,263.37 542.52,261.02 543.34,261.54 544.16,265.68 544.99,262.57 545.81,260.53 546.63,263.55 547.46,266.58 548.28,265.59 549.11,263.64 549.93,267.65 550.75,270.14 551.58,269.91 552.40,267.72 553.22,271.11 554.05,274.61 554.87,273.32 555.69,272.15 556.52,276.77 557.34,281.32 558.17,280.11 558.99,278.02 559.81,282.17 560.64,285.37 561.46,284.13 562.28,283.12 563.11,285.71 563.93,288.31 564.76,285.42 565.58,283.26 566.40,286.02 567.23,290.06 568.05,286.87 568.87,284.75 569.70,286.81 570.52,289.23 571.35,286.53 572.17,282.02 572.99,283.93 573.82,285.54 574.64,283.04 575.46,278.73 576.29,280.49 577.11,282.17 577.93,278.75 578.76,276.27 579.58,279.07 580.41,278.95 581.23,276.37 582.05,272.50 582.88,273.61 583.70,275.99 584.52,272.86 585.35,269.48 586.17,272.90 587.00,273.16 587.82,271.42 588.64,268.66 589.47,270.81 590.29,273.77 591.11,271.53 591.94,268.57 592.76,271.30 593.59,274.04 594.41,270.21 595.23,269.84 596.06,273.56 596.88,276.37 597.70,274.66 598.53,271.62 599.35,275.57 600.17,278.55 601.00,276.80 601.82,275.73 602.65,278.21 603.47,281.93 604.29,279.25 605.12,278.40 605.94,282.04 606.76,285.14 607.59,283.40 608.41,282.87 609.24,284.65 610.06,288.10 610.88,286.39 611.71,285.47 612.53,289.07 613.35,291.12 614.18,288.06 615.00,285.53 615.83,288.72 616.65,290.11 617.47,288.43 618.30,285.54 619.12,287.17 619.94,289.65 620.77,286.61 621.59,283.89 622.41,284.66 623.24,287.90 624.06,284.09 624.89,280.87 625.71,283.49 626.53,285.53 627.36,282.14 628.18,278.85 629.00,281.39 629.83,284.82 630.65,282.12 630.74,280.96" fill="none" stroke="#bfbf00" stroke-width="1.5" stroke-linejoin="round" clip-path="url(#cm2)"/>
<polyline points="434.40,228.58 434.87,227.73 435.70,230.95 436.52,228.13 437.34,224.45 438.17,227.50 438.99,231.04 439.81,227.83 440.64,224.46 441.46,228.18 442.29,230.86 443.11,228.50 443.93,224.99 444.76,227.84 445.58,231.06 446.40,227.93 447.23,224.71 448.05,227.90 448.87,231.53 449.70,228.56 450.52,225.96 451.35,227.56 452.17,231.30 452.99,228.39 453.82,225.79 454.64,228.57 455.46,231.64 456.29,229.39 457.11,226.18 457.94,228.59 458.76,232.91 459.58,229.81 460.41,226.09 461.23,229.86 462.05,232.14 462.88,230.14 463.70,226.54 464.53,229.33 465.35,232.64 466.17,229.55 467.00,227.15 467.82,230.28 468.64,233.35 469.47,230.24 470.29,225.95 471.12,231.34 471.94,234.15 472.76,233.34 473.59,231.98 474.41,235.52 475.23,238.99 476.06,237.08 476.88,235.11 477.70,238.65 478.53,242.36 479.35,240.23 480.18,239.38 481.00,242.51 481.82,246.72 482.65,244.25 483.47,242.58 484.29,246.17 485.12,250.18 485.94,248.57 486.77,246.49 487.59,249.62 488.41,253.18 489.24,252.79 490.06,250.63 490.88,255.38 491.71,261.23 492.53,260.58 493.36,259.45 494.18,263.14 495.00,268.69 495.83,267.03 496.65,267.31 497.47,273.16 498.30,278.77 499.12,279.23 499.94,279.61 500.77,283.75 501.59,287.40 502.42,286.05 503.24,285.25 504.06,290.01 504.89,293.41 505.71,293.36 506.53,292.01 507.36,296.00 508.18,298.02 509.01,295.52 509.83,293.43 510.65,294.46 511.48,297.89 512.30,295.42 513.12,293.19 513.95,294.50 514.77,295.90 515.60,292.83 516.42,290.01 517.24,291.37 518.07,290.93 518.89,287.85 519.71,284.13 520.54,286.66 521.36,287.77 522.18,285.10 523.01,281.83 523.83,284.23 524.66,285.78 525.48,283.73 526.30,281.43 527.13,283.66 527.95,285.13 528.77,283.76 529.60,281.69 530.42,283.91 531.25,286.64 532.07,285.20 532.89,284.55 533.72,286.69 534.54,289.76 535.36,288.28 536.19,286.64 537.01,290.75 537.84,292.63 538.66,292.29 539.48,290.85 540.31,292.49 541.13,295.51 541.95,294.34 542.78,292.72 543.60,294.99 544.42,298.30 545.25,296.14 546.07,294.76 546.90,296.61 547.72,299.16 548.54,296.71 549.37,295.04 550.19,297.21 551.01,298.73 551.84,296.22 552.66,293.63 553.49,296.00 554.31,297.88 555.13,295.39 555.96,292.96 556.78,295.44 557.60,298.22 558.43,294.61 559.25,292.65 560.08,294.26 560.90,294.30 561.72,293.14 562.55,290.28 563.37,293.01 564.19,294.08 565.02,292.12 565.84,291.15 566.67,294.38 567.49,297.15 568.31,296.47 569.14,294.65 569.96,298.00 570.78,301.29 571.61,300.62 572.43,298.62 573.25,300.87 574.08,303.62 574.90,301.79 575.73,300.35 576.55,302.25 577.37,303.80 578.20,302.08 579.02,300.07 579.84,302.13 580.67,304.08 581.49,301.59 582.32,298.93 583.14,301.64 583.96,302.96 584.79,301.93 585.61,299.73 586.43,300.69 587.26,303.63 588.08,301.49 588.91,298.89 589.73,301.43 590.55,303.24 591.38,299.42 592.20,298.29 593.02,299.81 593.85,301.75 594.67,300.27 595.49,298.03 596.32,300.90 597.14,303.66 597.97,302.51 598.79,301.52 599.61,303.56 600.44,306.53 601.26,306.08 602.08,304.39 602.91,307.08 603.73,308.14 604.56,306.70 605.38,304.81 606.20,307.11 607.03,308.80 607.85,307.56 608.67,305.06 609.50,306.90 610.32,308.48 611.15,306.29 611.97,303.15 612.79,305.49 613.62,306.90 614.44,304.74 615.26,302.80 616.09,305.22 616.91,307.70 617.73,305.93 618.56,303.92 619.38,306.53 620.21,308.67 621.03,307.82 621.85,305.71 622.68,307.06 623.50,310.87 624.32,308.26 625.15,305.62 625.97,308.10 626.80,309.76 627.62,309.25 628.44,306.45 629.27,307.42 630.09,310.47 630.74,308.64" fill="none" stroke="#008000" stroke-width="1.5" stroke-linejoin="round" clip-path="url(#cm2)"/>
<polyline points="434.40,230.25 434.42,225.47 435.24,227.84 436.06,232.31 436.89,229.14 437.71,226.19 438.53,228.24 439.36,232.86 440.18,230.69 441.00,225.63 441.83,230.56 442.65,232.61 443.48,231.44 444.30,227.38 445.12,230.10 445.95,233.96 446.77,230.70 447.59,227.12 448.42,230.99 449.24,233.35 450.07,229.67 450.89,229.05 451.71,230.71 452.54,233.65 453.36,231.31 454.18,227.26 455.01,230.48 455.83,234.08 456.66,231.16 457.48,228.61 458.30,232.33 459.13,234.45 459.95,232.10 460.77,229.24 461.60,231.29 462.42,235.15 463.25,231.51 464.07,229.79 464.89,232.51 465.72,235.34 466.54,231.64 467.36,229.63 468.19,232.25 469.01,236.28 469.83,232.98 470.66,229.91 471.48,234.53 472.31,238.19 473.13,235.45 473.95,234.61 474.78,237.62 475.60,241.50 476.42,239.95 477.25,237.69 478.07,241.87 478.90,245.96 479.72,245.13 480.54,243.12 481.37,245.55 482.19,250.10 483.01,247.04 483.84,245.47 484.66,249.83 485.49,255.14 486.31,256.41 487.13,253.91 487.96,256.94 488.78,262.36 489.60,260.35 490.43,260.75 491.25,265.75 492.07,274.61 492.90,274.55 493.72,273.69 494.55,277.87 495.37,282.37 496.19,280.65 497.02,281.26 497.84,285.59 498.66,290.86 499.49,291.05 500.31,289.60 501.14,292.20 501.96,296.75 502.78,295.26 503.61,293.88 504.43,298.25 505.25,301.03 506.08,298.61 506.90,297.11 507.73,301.49 508.55,302.05 509.37,301.12 510.20,299.31 511.02,301.35 511.84,301.83 512.67,299.50 513.49,296.76 514.31,298.13 515.14,298.18 515.96,294.68 516.79,292.42 517.61,292.89 518.43,293.45 519.26,290.61 520.08,289.06 520.90,290.47 521.73,292.49 522.55,289.26 523.38,288.15 524.20,289.70 525.02,290.90 525.85,289.97 526.67,288.38 527.49,290.40 528.32,293.30 529.14,291.10 529.97,290.85 530.79,293.64 531.61,295.99 532.44,295.27 533.26,292.74 534.08,294.98 534.91,298.56 535.73,297.71 536.55,297.70 537.38,299.28 538.20,300.65 539.03,300.02 539.85,297.23 540.67,298.64 541.50,302.90 542.32,299.73 543.14,298.17 543.97,299.87 544.79,302.28 545.62,299.17 546.44,297.39 547.26,297.26 548.09,298.33 548.91,297.88 549.73,295.82 550.56,296.77 551.38,298.14 552.21,296.09 553.03,293.62 553.85,296.69 554.68,297.99 555.50,296.27 556.32,294.65 557.15,297.16 557.97,298.94 558.80,297.54 559.62,294.83 560.44,297.91 561.27,300.98 562.09,297.80 562.91,296.42 563.74,298.94 564.56,300.79 565.38,298.67 566.21,295.31 567.03,298.10 567.86,298.57 568.68,296.67 569.50,295.33 570.33,296.11 571.15,298.00 571.97,297.07 572.80,293.46 573.62,295.08 574.45,295.96 575.27,294.43 576.09,292.56 576.92,294.89 577.74,296.58 578.56,295.26 579.39,293.95 580.21,295.55 581.04,297.41 581.86,295.94 582.68,295.45 583.51,297.12 584.33,299.47 585.15,297.55 585.98,294.71 586.80,296.86 587.62,297.11 588.45,297.25 589.27,294.48 590.10,294.97 590.92,295.66 591.74,294.26 592.57,290.67 593.39,292.88 594.21,295.56 595.04,293.36 595.86,291.22 596.69,293.89 597.51,294.49 598.33,293.49 599.16,291.22 599.98,292.81 600.80,295.39 601.16,294.12" fill="none" stroke="#0000ff" stroke-width="1.5" stroke-linejoin="round" clip-path="url(#cm2)"/>
<line x1="435.3" y1="169.0" x2="435.3" y2="320.2" stroke="#ff0000" stroke-width="1.2"/>
<line x1="435.0" y1="169.0" x2="435.0" y2="230" stroke="#bfbf00" stroke-width="1.2"/>
<line x1="435.2" y1="148" x2="435.2" y2="169.0" stroke="#ff0000" stroke-width="1.2"/>
<polyline points="196.20,418.64 196.20,418.64 197.41,424.68 198.62,428.07 199.83,429.66 201.04,432.10 202.24,434.18 203.45,434.51 204.66,434.91 205.87,437.00 207.08,439.12 208.29,439.46 209.50,439.58 210.71,441.79 211.91,444.13 213.12,443.96 214.33,443.58 215.54,446.07 216.75,448.77 217.96,448.28 219.17,447.60 220.38,450.49 221.59,453.52 222.79,452.54 224.00,451.34 225.21,454.44 226.42,457.69 227.63,456.22 228.84,454.60 230.05,458.03 231.26,461.57 232.46,459.54 233.67,457.15 234.88,460.53 236.09,464.00 237.30,461.21 238.51,458.08 239.72,461.45 240.93,464.91 242.13,461.24 243.34,457.46 244.55,460.55 245.76,463.70 246.97,459.88 248.18,455.29 249.39,458.39 250.60,461.45 251.81,456.48 253.01,451.61 254.22,454.39 255.43,456.82 256.64,451.34 257.85,446.52 259.06,448.88 260.27,451.26 261.48,446.63 262.68,442.26 263.89,444.21 265.10,447.51 266.31,442.68 267.52,437.68 268.73,439.57 269.94,443.19 271.15,438.12 272.36,434.00 273.56,437.81 274.77,441.86 275.98,437.89 277.19,434.02 278.40,438.26 279.61,441.49 280.82,437.85 282.03,435.09 283.23,439.52 284.44,444.19 285.65,440.53 286.86,438.24 288.07,442.95 289.28,448.42 290.49,445.14 291.70,443.29 292.90,448.48 294.11,453.52 295.32,451.77 296.53,450.42 297.74,455.71 298.95,461.42 300.16,460.07 301.37,458.28 302.58,464.07 303.78,469.38 304.99,467.89 306.20,466.57 307.41,472.12 308.62,478.32 309.83,477.53 311.04,476.49 312.25,481.95 313.45,487.61 314.66,486.26 315.87,484.58 317.08,490.55 318.29,496.43 319.50,494.25 320.71,492.15 321.92,498.12 323.13,503.58 324.33,502.05 325.54,500.00 326.75,506.59 327.96,511.42 329.17,508.58 330.38,506.15 331.59,511.41 332.80,515.97 334.00,513.34 335.21,510.21 336.42,515.13 337.63,519.07 338.84,515.53 340.05,511.69 341.26,515.48 342.47,519.45 343.68,515.35 344.88,511.63 346.09,514.50 347.30,518.36 348.51,513.37 349.72,507.94 350.93,509.21 352.14,511.18 353.35,506.06 354.55,500.79 355.76,502.61 356.97,504.96 358.18,499.20 359.39,493.80 360.60,495.91 361.81,498.57 363.02,492.85 364.22,487.13 365.43,489.23 366.64,491.78 367.85,486.65 369.06,481.43 370.27,485.01 371.48,487.47 372.69,482.80 373.90,478.77 375.10,481.87 376.31,484.81 377.52,480.70 378.73,475.97 379.94,479.57 381.15,482.70 382.36,479.95 383.57,475.40 384.77,480.30 385.98,484.08 387.19,480.75 388.40,477.73 389.61,482.34 390.82,487.18 392.03,484.87 393.24,481.91 394.45,487.19 395.65,491.86 396.86,489.85 398.07,487.42 399.28,492.63 400.49,498.12 401.70,495.81 402.91,493.41 404.12,498.54 405.32,503.28 406.53,500.57 407.74,498.27 408.95,502.28 410.16,507.23 411.37,504.84 412.58,500.46 413.79,505.50 415.00,510.29 416.20,506.29 417.41,504.25 418.62,506.95 419.83,512.38 421.04,508.98 422.25,505.28 423.46,508.92 424.67,513.03 425.87,508.98 427.08,505.80 428.29,509.10 429.50,513.19 430.71,509.74 431.92,505.07 433.13,508.67 434.34,512.07 435.54,507.18 436.75,503.48 437.96,506.31 439.17,508.63 440.38,504.21 441.59,499.05 442.80,501.73 444.01,504.64 445.22,499.48 446.42,494.99 447.63,497.10 448.84,500.25 450.05,495.09 451.26,490.63 452.47,493.19 453.68,496.23 454.89,491.51 456.09,487.54 457.30,490.75 458.51,494.21 459.72,489.46 460.93,484.66 462.14,487.66 463.35,491.02 464.56,486.52 465.77,482.63 466.97,485.75 468.18,488.51 469.39,484.28 470.60,480.64 471.81,483.69 473.02,486.93 474.23,483.19 474.47,481.45" fill="none" stroke="#ff0000" stroke-width="1.5" stroke-linejoin="round" clip-path="url(#cb)"/>
<polyline points="196.20,418.64 196.97,426.40 198.18,435.28 199.39,437.89 200.60,439.36 201.80,441.79 203.01,444.12 204.22,445.05 205.43,445.90 206.64,448.01 207.85,450.27 209.06,451.43 210.27,452.63 211.48,455.00 212.68,457.32 213.89,458.32 215.10,459.22 216.31,461.30 217.52,463.60 218.73,464.37 219.94,465.02 221.15,468.09 222.35,471.45 223.56,471.74 224.77,471.31 225.98,474.08 227.19,477.02 228.40,475.79 229.61,474.25 230.82,477.48 232.03,481.10 233.23,479.42 234.44,477.43 235.65,481.35 236.86,485.40 238.07,481.77 239.28,477.80 240.49,482.21 241.70,489.31 242.90,485.57 244.11,481.70 245.32,487.32 246.53,492.83 247.74,485.32 248.95,484.10 250.16,488.41 251.37,492.87 252.57,490.02 253.78,486.79 254.99,491.54 256.20,494.82 257.41,492.33 258.62,491.99 259.83,492.64 261.04,496.70 262.25,495.60 263.45,492.21 264.66,497.00 265.87,499.79 267.08,498.97 268.29,492.70 269.50,497.26 270.71,503.07 271.92,500.08 273.12,497.59 274.33,502.66 275.54,507.00 276.75,504.80 277.96,500.09 279.17,506.52 280.38,508.57 281.59,504.79 282.80,504.56 284.00,506.86 285.21,513.81 286.42,510.83 287.63,507.18 288.84,513.06 290.05,521.58 291.26,513.30 292.47,515.33 293.67,523.42 294.88,526.55 296.09,524.11 297.30,522.75 298.51,530.58 299.72,532.41 300.93,531.24 302.14,527.84 303.35,534.57 304.55,539.59 305.76,536.93 306.97,531.92 308.18,537.87 309.39,542.15 310.60,538.54 311.81,535.48 313.02,540.23 314.22,543.23 315.43,542.67 316.64,535.89 317.85,538.54 319.06,546.42 320.27,539.43 321.48,536.75 322.69,539.98 323.89,543.93 325.10,538.32 326.31,531.62 327.52,535.61 328.73,541.47 329.94,529.37 331.15,526.33 332.36,529.47 333.57,530.37 334.77,524.27 335.98,523.60 337.19,523.37 338.40,530.32 339.61,523.17 340.82,517.81 342.03,522.50 343.24,526.89 344.44,523.07 345.65,517.51 346.86,521.44 348.07,525.96 349.28,523.50 350.49,518.80 351.70,521.16 352.91,526.58 354.12,523.94 355.32,518.55 356.53,523.63 357.74,527.56 358.95,524.48 360.16,521.42 361.37,527.05 362.58,530.69 363.79,529.92 364.99,523.24 366.20,532.82 367.41,534.49 368.62,529.41 369.83,523.62 371.04,524.76 372.25,532.90 373.46,528.97 374.66,527.01 375.87,526.65 377.08,535.24 378.29,527.28 379.50,523.71 380.71,523.15 381.92,531.18 383.13,526.10 384.34,523.14 385.54,526.71 386.75,529.38 387.96,527.91 389.17,523.13 390.38,527.24 391.59,531.97 392.80,527.42 394.01,521.22 395.21,523.62 396.42,527.97 397.63,527.40 398.84,522.11 400.05,525.66 401.26,529.30 402.47,525.56 403.68,521.15 404.89,525.04 406.09,528.93 407.30,528.54 408.51,521.43 409.72,524.66 410.93,528.09 412.14,524.50 413.35,522.12 414.56,526.57 415.76,529.61 416.97,525.62 418.18,520.89 419.39,524.42 420.60,532.47 421.81,527.00 423.02,525.65 424.23,525.52 425.44,530.79 426.64,527.82 427.85,521.84 429.06,524.64 430.27,529.66 431.48,526.95 432.69,523.35 433.90,527.69 435.11,534.14 436.31,530.05 437.52,524.77 438.73,528.76 439.94,532.76 441.15,529.49 442.36,525.61 443.57,528.80 444.78,533.80 445.98,528.52 447.19,522.90 448.40,528.24 449.61,535.48 450.82,530.95 452.03,528.42 453.24,530.93 454.45,536.71 455.66,533.22 456.86,528.67 458.07,531.19 459.28,536.65 460.49,533.23 461.70,527.86 462.91,534.93 464.12,540.72 465.33,534.82 466.53,534.47 467.74,536.33 468.95,541.49 470.16,537.70 471.37,533.31 472.58,539.96 473.79,544.50 474.47,545.57" fill="none" stroke="#bfbf00" stroke-width="1.5" stroke-linejoin="round" clip-path="url(#cb)"/>
<polyline points="196.20,418.64 196.53,422.24 197.74,435.13 198.95,443.40 200.16,448.31 201.37,452.16 202.57,456.11 203.78,459.28 204.99,460.84 206.20,462.35 207.41,465.34 208.62,468.59 209.83,470.68 211.04,472.61 212.24,475.57 213.45,478.45 214.66,480.04 215.87,481.52 217.08,484.08 218.29,486.78 219.50,487.74 220.71,488.37 221.92,491.08 223.12,493.94 224.33,494.03 225.54,493.76 226.75,496.55 227.96,499.53 229.17,498.86 230.38,497.97 231.59,501.26 232.79,504.83 234.00,503.79 235.21,502.48 236.42,506.34 237.63,510.31 238.84,509.39 240.05,507.30 241.26,510.82 242.47,514.83 243.67,514.30 244.88,510.08 246.09,513.82 247.30,517.43 248.51,515.49 249.72,511.91 250.93,517.85 252.14,522.35 253.34,516.36 254.55,516.00 255.76,520.95 256.97,524.44 258.18,519.91 259.39,519.76 260.60,521.35 261.81,524.81 263.01,521.96 264.22,520.31 265.43,525.80 266.64,530.27 267.85,526.07 269.06,521.31 270.27,526.28 271.48,530.23 272.69,528.23 273.89,523.22 275.10,529.94 276.31,534.90 277.52,530.92 278.73,528.74 279.94,531.14 281.15,534.69 282.36,532.77 283.56,532.09 284.77,536.04 285.98,538.13 287.19,537.08 288.40,531.87 289.61,538.21 290.82,540.75 292.03,536.11 293.24,534.17 294.44,535.73 295.65,539.12 296.86,534.85 298.07,533.47 299.28,536.67 300.49,540.28 301.70,536.49 302.91,535.68 304.11,537.27 305.32,540.83 306.53,539.95 307.74,536.59 308.95,538.78 310.16,539.68 311.37,537.56 312.58,535.53 313.79,538.36 314.99,543.86 316.20,536.24 317.41,535.00 318.62,536.56 319.83,542.36 321.04,536.63 322.25,534.16 323.46,535.21 324.66,537.45 325.87,533.93 327.08,530.79 328.29,533.80 329.50,540.29 330.71,536.87 331.92,531.89 333.13,533.79 334.33,538.58 335.54,534.13 336.75,532.75 337.96,534.13 339.17,537.37 340.38,532.47 341.59,526.78 342.80,531.99 344.01,535.14 345.21,533.48 346.42,529.52 347.63,531.97 348.84,536.34 350.05,535.70 351.26,529.33 352.47,533.49 353.68,538.40 354.88,534.49 356.09,531.48 357.30,536.56 358.51,541.96 359.72,534.06 360.93,533.09 362.14,537.28 363.35,541.43 364.56,538.50 365.76,535.48 366.97,541.46 368.18,543.54 369.39,540.61 370.60,537.35 371.81,541.23 373.02,544.62 374.23,542.73 375.43,538.09 376.64,542.35 377.85,546.15 379.06,541.80 380.27,538.81 381.48,542.31 382.69,547.53 383.90,542.75 385.11,538.70 386.31,543.99 387.52,547.96 388.73,541.39 389.94,542.44 391.15,544.25 392.36,548.15 393.57,546.58 394.78,542.11 395.98,545.12 397.19,552.56 398.40,544.88 399.61,542.71 400.82,547.70 402.03,549.02 403.24,546.94 404.45,544.31 405.65,550.91 406.86,550.64 408.07,548.55 409.28,546.26 410.49,549.50 411.70,551.84 412.91,550.75 414.12,547.15 415.33,551.53 416.53,556.29 417.74,552.74 418.95,548.53 420.16,552.16 421.37,554.09 422.58,551.94 423.79,549.06 425.00,552.19 426.20,556.84 427.41,552.45 428.62,552.33 429.83,557.10 431.04,557.71 432.25,555.43 433.46,551.28 434.67,557.09 435.88,559.89 437.08,556.10 438.29,552.37 439.50,556.69 440.71,559.08 441.92,557.94 443.13,552.84 444.34,558.41 445.55,561.89 446.75,560.01 447.96,555.47 449.17,560.92 450.38,562.49 451.59,561.35 452.80,557.12 454.01,561.72 455.22,565.62 456.42,563.61 457.63,556.67 458.84,563.91 460.05,565.87 461.26,566.52 462.47,559.42 463.68,564.71 464.89,567.55 466.10,568.26 467.30,560.85 468.51,566.27 469.72,569.03 470.93,563.79 472.14,562.09 473.35,566.99 474.47,569.46" fill="none" stroke="#008000" stroke-width="1.5" stroke-linejoin="round" clip-path="url(#cb)"/>
<polyline points="196.20,418.64 197.30,438.36 198.51,445.89 199.72,451.22 200.93,454.67 202.14,458.67 203.34,464.46 204.55,469.73 205.76,473.58 206.97,477.18 208.18,481.62 209.39,485.82 210.60,488.53 211.81,490.97 213.01,494.22 214.22,497.29 215.43,499.21 216.64,500.99 217.85,503.63 219.06,506.15 220.27,507.55 221.48,508.86 222.68,511.09 223.89,513.28 225.10,514.40 226.31,515.42 227.52,517.48 228.73,519.72 229.94,520.34 231.15,520.67 232.36,523.02 233.56,525.57 234.77,525.55 235.98,525.20 237.19,527.69 238.40,531.18 239.61,530.63 240.82,526.82 242.03,530.43 243.23,536.56 244.44,532.40 245.65,529.02 246.86,534.32 248.07,537.46 249.28,535.43 250.49,532.53 251.70,536.37 252.91,539.92 254.11,538.65 255.32,534.04 256.53,538.92 257.74,543.26 258.95,542.95 260.16,538.92 261.37,542.49 262.58,547.90 263.78,545.28 264.99,543.94 266.20,547.40 267.41,553.98 268.62,550.99 269.83,546.40 271.04,550.02 272.25,555.99 273.46,552.26 274.66,548.07 275.87,549.41 277.08,552.38 278.29,552.64 279.50,550.16 280.71,554.01 281.92,554.56 283.13,555.37 284.33,549.86 285.54,554.97 286.75,558.39 287.96,552.81 289.17,549.38 290.38,549.94 291.59,554.69 292.80,549.39 294.00,549.08 295.21,551.31 296.42,555.46 297.63,550.56 298.84,545.01 300.05,549.49 301.26,551.22 302.47,548.92 303.68,544.59 304.88,545.55 306.09,550.32 307.30,547.02 308.51,543.35 309.72,549.18 310.93,554.44 312.14,548.18 313.35,545.05 314.55,545.43 315.76,552.22 316.97,548.33 318.18,542.17 319.39,549.49 320.60,553.37 321.81,547.91 323.02,545.37 324.23,548.26 325.43,554.93 326.64,548.36 327.85,547.24 329.06,554.52 330.27,555.14 331.48,552.64 332.69,548.44 333.90,550.32 335.10,555.56 336.31,552.87 337.52,547.30 338.73,552.76 339.94,557.42 341.15,553.94 342.36,546.98 343.57,551.52 344.77,554.25 345.98,555.45 347.19,552.10 348.40,555.86 349.61,557.31 350.82,554.46 352.03,553.76 353.24,557.45 354.45,559.74 355.65,558.64 356.86,556.91 358.07,559.87 359.28,561.69 360.49,557.96 361.70,557.87 362.91,561.65 364.12,564.32 365.32,561.69 366.53,558.99 367.74,563.70 368.95,565.83 370.16,563.61 371.37,560.03 372.58,563.35 373.79,567.06 375.00,563.51 376.20,560.98 377.41,564.77 378.62,569.08 379.83,565.84 381.04,564.91 382.25,566.14 383.46,568.71 384.67,565.67 385.87,564.44 387.08,568.99 388.29,570.73 389.50,569.24 390.71,567.51 391.92,569.78 393.13,572.44 394.34,571.07 395.55,569.82 396.75,572.28 397.96,574.88 399.17,572.86 400.38,570.38 401.59,573.22 402.80,575.07 404.01,574.62 405.22,570.39 406.42,574.02 407.63,578.14 408.84,574.31 410.05,572.05 411.26,575.48 412.47,579.17 413.68,576.95 414.89,576.24 416.09,578.43 417.30,580.43 418.51,581.14 419.72,577.38 420.93,579.16 422.14,581.36 423.35,580.32 424.56,578.80 425.77,581.30 426.97,583.16 428.18,580.71 429.39,580.46 430.60,582.10 431.81,584.21 433.02,581.94 434.23,580.96 435.44,582.93 436.64,585.41 437.85,583.20 439.06,582.76 440.27,585.02 441.48,586.54 442.69,585.61 443.90,584.28 445.11,587.39 446.32,587.69 447.52,587.66 448.73,585.80 449.94,588.55 451.15,591.29 452.36,589.41 453.57,588.69 454.78,590.29 455.99,593.75 457.19,592.07 458.40,590.96 459.61,591.71 460.82,593.79 462.03,593.64 463.24,591.76 464.45,593.67 465.66,595.89 466.87,593.81 468.07,593.53 469.28,595.04 470.49,597.14 471.70,595.21 472.91,594.44 474.12,595.64 474.47,597.24" fill="none" stroke="#0000ff" stroke-width="1.5" stroke-linejoin="round" clip-path="url(#cb)"/>
<path d="M43.45 17.67 v6.5 M43.45 169.0 v-6.5 M77.07 17.67 v6.5 M77.07 169.0 v-6.5 M110.69 17.67 v6.5 M110.69 169.0 v-6.5 M144.31 17.67 v6.5 M144.31 169.0 v-6.5 M177.93 17.67 v6.5 M177.93 169.0 v-6.5 M211.55 17.67 v6.5 M211.55 169.0 v-6.5 M43.45 162.12 h6.5 M238.45 162.12 h-6.5 M43.45 134.61 h6.5 M238.45 134.61 h-6.5 M43.45 107.09 h6.5 M238.45 107.09 h-6.5 M43.45 79.58 h6.5 M238.45 79.58 h-6.5 M43.45 52.06 h6.5 M238.45 52.06 h-6.5 M43.45 24.55 h6.5 M238.45 24.55 h-6.5 M43.45 169.0 v6.5 M43.45 320.2 v-6.5 M77.07 169.0 v6.5 M77.07 320.2 v-6.5 M110.69 169.0 v6.5 M110.69 320.2 v-6.5 M144.31 169.0 v6.5 M144.31 320.2 v-6.5 M177.93 169.0 v6.5 M177.93 320.2 v-6.5 M211.55 169.0 v6.5 M211.55 320.2 v-6.5 M43.45 320.20 h6.5 M238.45 320.20 h-6.5 M43.45 297.98 h6.5 M238.45 297.98 h-6.5 M43.45 275.76 h6.5 M238.45 275.76 h-6.5 M43.45 253.54 h6.5 M238.45 253.54 h-6.5 M43.45 231.32 h6.5 M238.45 231.32 h-6.5 M43.45 209.11 h6.5 M238.45 209.11 h-6.5 M43.45 186.89 h6.5 M238.45 186.89 h-6.5 M239.00 17.67 v6.5 M239.00 169.0 v-6.5 M272.62 17.67 v6.5 M272.62 169.0 v-6.5 M306.24 17.67 v6.5 M306.24 169.0 v-6.5 M339.86 17.67 v6.5 M339.86 169.0 v-6.5 M373.48 17.67 v6.5 M373.48 169.0 v-6.5 M407.10 17.67 v6.5 M407.10 169.0 v-6.5 M239.0 162.12 h6.5 M434.0 162.12 h-6.5 M239.0 134.61 h6.5 M434.0 134.61 h-6.5 M239.0 107.09 h6.5 M434.0 107.09 h-6.5 M239.0 79.58 h6.5 M434.0 79.58 h-6.5 M239.0 52.06 h6.5 M434.0 52.06 h-6.5 M239.0 24.55 h6.5 M434.0 24.55 h-6.5 M239.00 169.0 v6.5 M239.00 320.2 v-6.5 M272.62 169.0 v6.5 M272.62 320.2 v-6.5 M306.24 169.0 v6.5 M306.24 320.2 v-6.5 M339.86 169.0 v6.5 M339.86 320.2 v-6.5 M373.48 169.0 v6.5 M373.48 320.2 v-6.5 M407.10 169.0 v6.5 M407.10 320.2 v-6.5 M239.0 320.20 h6.5 M434.0 320.20 h-6.5 M239.0 297.98 h6.5 M434.0 297.98 h-6.5 M239.0 275.76 h6.5 M434.0 275.76 h-6.5 M239.0 253.54 h6.5 M434.0 253.54 h-6.5 M239.0 231.32 h6.5 M434.0 231.32 h-6.5 M239.0 209.11 h6.5 M434.0 209.11 h-6.5 M239.0 186.89 h6.5 M434.0 186.89 h-6.5 M434.40 17.67 v6.5 M434.40 169.0 v-6.5 M468.02 17.67 v6.5 M468.02 169.0 v-6.5 M501.64 17.67 v6.5 M501.64 169.0 v-6.5 M535.26 17.67 v6.5 M535.26 169.0 v-6.5 M568.88 17.67 v6.5 M568.88 169.0 v-6.5 M602.50 17.67 v6.5 M602.50 169.0 v-6.5 M434.4 162.12 h6.5 M629.4 162.12 h-6.5 M434.4 134.61 h6.5 M629.4 134.61 h-6.5 M434.4 107.09 h6.5 M629.4 107.09 h-6.5 M434.4 79.58 h6.5 M629.4 79.58 h-6.5 M434.4 52.06 h6.5 M629.4 52.06 h-6.5 M434.4 24.55 h6.5 M629.4 24.55 h-6.5 M434.40 169.0 v6.5 M434.40 320.2 v-6.5 M468.02 169.0 v6.5 M468.02 320.2 v-6.5 M501.64 169.0 v6.5 M501.64 320.2 v-6.5 M535.26 169.0 v6.5 M535.26 320.2 v-6.5 M568.88 169.0 v6.5 M568.88 320.2 v-6.5 M602.50 169.0 v6.5 M602.50 320.2 v-6.5 M434.4 320.20 h6.5 M629.4 320.20 h-6.5 M434.4 297.98 h6.5 M629.4 297.98 h-6.5 M434.4 275.76 h6.5 M629.4 275.76 h-6.5 M434.4 253.54 h6.5 M629.4 253.54 h-6.5 M434.4 231.32 h6.5 M629.4 231.32 h-6.5 M434.4 209.11 h6.5 M629.4 209.11 h-6.5 M434.4 186.89 h6.5 M629.4 186.89 h-6.5" stroke="#1a1a1a" stroke-width="1.15" fill="none"/>
<rect x="43.45" y="17.67" width="195.0" height="151.32999999999998" fill="none" stroke="#000" stroke-width="1.6"/>
<rect x="43.45" y="169.0" width="195.0" height="151.2" fill="none" stroke="#000" stroke-width="1.6"/>
<rect x="239.0" y="17.67" width="195.0" height="151.32999999999998" fill="none" stroke="#000" stroke-width="1.6"/>
<rect x="239.0" y="169.0" width="195.0" height="151.2" fill="none" stroke="#000" stroke-width="1.6"/>
<rect x="434.4" y="17.67" width="195.0" height="151.32999999999998" fill="none" stroke="#000" stroke-width="1.6"/>
<rect x="434.4" y="169.0" width="195.0" height="151.2" fill="none" stroke="#000" stroke-width="1.6"/>
<path d="M196.20 373.75 v2.5 M196.20 587.5 v-2.5 M245.54 373.75 v2.5 M245.54 587.5 v-2.5 M294.88 373.75 v2.5 M294.88 587.5 v-2.5 M344.22 373.75 v2.5 M344.22 587.5 v-2.5 M393.56 373.75 v2.5 M393.56 587.5 v-2.5 M442.90 373.75 v2.5 M442.90 587.5 v-2.5 M196.2 587.50 h2.5 M472.5 587.50 h-2.5 M196.2 534.06 h2.5 M472.5 534.06 h-2.5 M196.2 480.62 h2.5 M472.5 480.62 h-2.5 M196.2 427.19 h2.5 M472.5 427.19 h-2.5 M196.2 373.75 h2.5 M472.5 373.75 h-2.5" stroke="#444" stroke-width="0.6" fill="none"/>
<rect x="196.2" y="373.75" width="276.3" height="213.75" fill="none" stroke="#111" stroke-width="1.4"/>
<rect x="545.65" y="22.5" width="79.20000000000005" height="56.3" fill="#fff" stroke="#6a6a6a" stroke-width="1.0"/>
<line x1="551.0" y1="29.95" x2="565.8" y2="29.95" stroke="#ff0000" stroke-width="1.5"/>
<text x="575.7" y="33.33" font-size="9.4" textLength="40.4" lengthAdjust="spacingAndGlyphs">H/r=0.02</text>
<line x1="551.0" y1="43.4" x2="565.8" y2="43.4" stroke="#bfbf00" stroke-width="1.5"/>
<text x="575.7" y="46.78" font-size="9.4" textLength="46.7" lengthAdjust="spacingAndGlyphs">H/r=0.035</text>
<line x1="551.0" y1="56.85" x2="565.8" y2="56.85" stroke="#008000" stroke-width="1.5"/>
<text x="575.7" y="60.23" font-size="9.4" textLength="40.4" lengthAdjust="spacingAndGlyphs">H/r=0.05</text>
<line x1="551.0" y1="70.3" x2="565.8" y2="70.3" stroke="#0000ff" stroke-width="1.5"/>
<text x="575.7" y="73.68" font-size="9.4" textLength="46.7" lengthAdjust="spacingAndGlyphs">H/r=0.065</text>
<rect x="404.7" y="377.6" width="63.94999999999999" height="45.69999999999999" fill="#fff" stroke="#6a6a6a" stroke-width="1.0"/>
<line x1="409.05" y1="383.5" x2="420.95" y2="383.5" stroke="#ff0000" stroke-width="1.5"/>
<text x="428.7" y="386.31" font-size="7.8" textLength="33.2" lengthAdjust="spacingAndGlyphs" stroke="#000" stroke-width="0.12">H/r=0.02</text>
<line x1="409.05" y1="394.4" x2="420.95" y2="394.4" stroke="#bfbf00" stroke-width="1.5"/>
<text x="428.7" y="397.21" font-size="7.8" textLength="38.1" lengthAdjust="spacingAndGlyphs" stroke="#000" stroke-width="0.12">H/r=0.035</text>
<line x1="409.05" y1="405.3" x2="420.95" y2="405.3" stroke="#008000" stroke-width="1.5"/>
<text x="428.7" y="408.11" font-size="7.8" textLength="33.2" lengthAdjust="spacingAndGlyphs" stroke="#000" stroke-width="0.12">H/r=0.05</text>
<line x1="409.05" y1="416.2" x2="420.95" y2="416.2" stroke="#0000ff" stroke-width="1.5"/>
<text x="428.7" y="419.01" font-size="7.8" textLength="38.1" lengthAdjust="spacingAndGlyphs" stroke="#000" stroke-width="0.12">H/r=0.065</text>
<text x="38.50" y="165.42" font-size="12.0" text-anchor="end" textLength="17.5" lengthAdjust="spacingAndGlyphs" stroke="#000" stroke-width="0.22">0.0</text>
<text x="38.50" y="137.91" font-size="12.0" text-anchor="end" textLength="17.5" lengthAdjust="spacingAndGlyphs" stroke="#000" stroke-width="0.22">0.2</text>
<text x="38.50" y="110.39" font-size="12.0" text-anchor="end" textLength="17.5" lengthAdjust="spacingAndGlyphs" stroke="#000" stroke-width="0.22">0.4</text>
<text x="38.50" y="82.88" font-size="12.0" text-anchor="end" textLength="17.5" lengthAdjust="spacingAndGlyphs" stroke="#000" stroke-width="0.22">0.6</text>
<text x="38.50" y="55.36" font-size="12.0" text-anchor="end" textLength="17.5" lengthAdjust="spacingAndGlyphs" stroke="#000" stroke-width="0.22">0.8</text>
<text x="38.50" y="27.85" font-size="12.0" text-anchor="end" textLength="17.5" lengthAdjust="spacingAndGlyphs" stroke="#000" stroke-width="0.22">1.0</text>
<text x="38.10" y="323.50" font-size="12.0" text-anchor="end" textLength="13.6" lengthAdjust="spacingAndGlyphs" stroke="#000" stroke-width="0.22">20</text>
<text x="38.10" y="301.28" font-size="12.0" text-anchor="end" textLength="13.6" lengthAdjust="spacingAndGlyphs" stroke="#000" stroke-width="0.22">30</text>
<text x="38.10" y="279.06" font-size="12.0" text-anchor="end" textLength="13.6" lengthAdjust="spacingAndGlyphs" stroke="#000" stroke-width="0.22">40</text>
<text x="38.10" y="256.84" font-size="12.0" text-anchor="end" textLength="13.6" lengthAdjust="spacingAndGlyphs" stroke="#000" stroke-width="0.22">50</text>
<text x="38.10" y="234.62" font-size="12.0" text-anchor="end" textLength="13.6" lengthAdjust="spacingAndGlyphs" stroke="#000" stroke-width="0.22">60</text>
<text x="38.10" y="212.41" font-size="12.0" text-anchor="end" textLength="13.6" lengthAdjust="spacingAndGlyphs" stroke="#000" stroke-width="0.22">70</text>
<text x="38.10" y="190.19" font-size="12.0" text-anchor="end" textLength="13.6" lengthAdjust="spacingAndGlyphs" stroke="#000" stroke-width="0.22">80</text>
<text x="44.05" y="334.00" font-size="12.0" text-anchor="middle" textLength="6.9" lengthAdjust="spacingAndGlyphs" stroke="#000" stroke-width="0.22">0</text>
<text x="77.67" y="334.00" font-size="12.0" text-anchor="middle" textLength="6.9" lengthAdjust="spacingAndGlyphs" stroke="#000" stroke-width="0.22">5</text>
<text x="111.69" y="334.00" font-size="12.0" text-anchor="middle" textLength="13.7" lengthAdjust="spacingAndGlyphs" stroke="#000" stroke-width="0.22">10</text>
<text x="145.31" y="334.00" font-size="12.0" text-anchor="middle" textLength="13.7" lengthAdjust="spacingAndGlyphs" stroke="#000" stroke-width="0.22">15</text>
<text x="178.93" y="334.00" font-size="12.0" text-anchor="middle" textLength="13.7" lengthAdjust="spacingAndGlyphs" stroke="#000" stroke-width="0.22">20</text>
<text x="212.55" y="334.00" font-size="12.0" text-anchor="middle" textLength="13.7" lengthAdjust="spacingAndGlyphs" stroke="#000" stroke-width="0.22">25</text>
<text x="239.60" y="334.00" font-size="12.0" text-anchor="middle" textLength="6.9" lengthAdjust="spacingAndGlyphs" stroke="#000" stroke-width="0.22">0</text>
<text x="273.22" y="334.00" font-size="12.0" text-anchor="middle" textLength="6.9" lengthAdjust="spacingAndGlyphs" stroke="#000" stroke-width="0.22">5</text>
<text x="307.24" y="334.00" font-size="12.0" text-anchor="middle" textLength="13.7" lengthAdjust="spacingAndGlyphs" stroke="#000" stroke-width="0.22">10</text>
<text x="340.86" y="334.00" font-size="12.0" text-anchor="middle" textLength="13.7" lengthAdjust="spacingAndGlyphs" stroke="#000" stroke-width="0.22">15</text>
<text x="374.48" y="334.00" font-size="12.0" text-anchor="middle" textLength="13.7" lengthAdjust="spacingAndGlyphs" stroke="#000" stroke-width="0.22">20</text>
<text x="408.10" y="334.00" font-size="12.0" text-anchor="middle" textLength="13.7" lengthAdjust="spacingAndGlyphs" stroke="#000" stroke-width="0.22">25</text>
<text x="435.00" y="334.00" font-size="12.0" text-anchor="middle" textLength="6.9" lengthAdjust="spacingAndGlyphs" stroke="#000" stroke-width="0.22">0</text>
<text x="468.62" y="334.00" font-size="12.0" text-anchor="middle" textLength="6.9" lengthAdjust="spacingAndGlyphs" stroke="#000" stroke-width="0.22">5</text>
<text x="502.64" y="334.00" font-size="12.0" text-anchor="middle" textLength="13.7" lengthAdjust="spacingAndGlyphs" stroke="#000" stroke-width="0.22">10</text>
<text x="536.26" y="334.00" font-size="12.0" text-anchor="middle" textLength="13.7" lengthAdjust="spacingAndGlyphs" stroke="#000" stroke-width="0.22">15</text>
<text x="569.88" y="334.00" font-size="12.0" text-anchor="middle" textLength="13.7" lengthAdjust="spacingAndGlyphs" stroke="#000" stroke-width="0.22">20</text>
<text x="603.50" y="334.00" font-size="12.0" text-anchor="middle" textLength="13.7" lengthAdjust="spacingAndGlyphs" stroke="#000" stroke-width="0.22">25</text>
<text x="196.80" y="600.50" font-size="12.0" text-anchor="middle" textLength="6.7" lengthAdjust="spacingAndGlyphs" stroke="#000" stroke-width="0.22">0</text>
<text x="246.14" y="600.50" font-size="12.0" text-anchor="middle" textLength="6.7" lengthAdjust="spacingAndGlyphs" stroke="#000" stroke-width="0.22">5</text>
<text x="295.88" y="600.50" font-size="12.0" text-anchor="middle" textLength="13.3" lengthAdjust="spacingAndGlyphs" stroke="#000" stroke-width="0.22">10</text>
<text x="345.22" y="600.50" font-size="12.0" text-anchor="middle" textLength="13.3" lengthAdjust="spacingAndGlyphs" stroke="#000" stroke-width="0.22">15</text>
<text x="394.56" y="600.50" font-size="12.0" text-anchor="middle" textLength="13.3" lengthAdjust="spacingAndGlyphs" stroke="#000" stroke-width="0.22">20</text>
<text x="443.90" y="600.50" font-size="12.0" text-anchor="middle" textLength="13.3" lengthAdjust="spacingAndGlyphs" stroke="#000" stroke-width="0.22">25</text>
<text x="191.40" y="590.65" font-size="12.0" text-anchor="end" textLength="13.6" lengthAdjust="spacingAndGlyphs" stroke="#000" stroke-width="0.22">10</text>
<text x="191.40" y="537.21" font-size="12.0" text-anchor="end" textLength="13.6" lengthAdjust="spacingAndGlyphs" stroke="#000" stroke-width="0.22">15</text>
<text x="191.40" y="483.77" font-size="12.0" text-anchor="end" textLength="13.6" lengthAdjust="spacingAndGlyphs" stroke="#000" stroke-width="0.22">20</text>
<text x="191.40" y="430.34" font-size="12.0" text-anchor="end" textLength="13.6" lengthAdjust="spacingAndGlyphs" stroke="#000" stroke-width="0.22">25</text>
<text x="191.40" y="376.90" font-size="12.0" text-anchor="end" textLength="13.6" lengthAdjust="spacingAndGlyphs" stroke="#000" stroke-width="0.22">30</text>
<text transform="translate(114.05,10.36) scale(1.1799,1)" font-size="13.94">r=0.1a</text>
<text transform="translate(162.35,14.30) scale(1.0983,1)" font-size="9.73" fill="#333">b</text>
<text transform="translate(309.60,10.36) scale(1.1799,1)" font-size="13.94">r=0.2a</text>
<text transform="translate(357.90,14.30) scale(1.0983,1)" font-size="9.73" fill="#333">b</text>
<text transform="translate(505.00,10.36) scale(1.1799,1)" font-size="13.94">r=0.3a</text>
<text transform="translate(553.30,14.30) scale(1.0983,1)" font-size="9.73" fill="#333">b</text>
<text transform="translate(128.48,348.18) scale(1.0317,1)" font-size="11.93" class="sf">t</text><text transform="translate(133.20,350.53) scale(0.9768,1)" font-size="16.82" class="sf">/</text><text transform="translate(138.70,348.30) scale(1.0944,1)" font-size="12.31" class="sf">P</text><text transform="translate(147.20,351.12) scale(1.0054,1)" font-size="8.00" class="sf" fill="#222">b</text>
<text transform="translate(324.03,348.18) scale(1.0317,1)" font-size="11.93" class="sf">t</text><text transform="translate(328.75,350.53) scale(0.9768,1)" font-size="16.82" class="sf">/</text><text transform="translate(334.25,348.30) scale(1.0944,1)" font-size="12.31" class="sf">P</text><text transform="translate(342.75,351.12) scale(1.0054,1)" font-size="8.00" class="sf" fill="#222">b</text>
<text transform="translate(519.43,348.18) scale(1.0317,1)" font-size="11.93" class="sf">t</text><text transform="translate(524.15,350.53) scale(0.9768,1)" font-size="16.82" class="sf">/</text><text transform="translate(529.65,348.30) scale(1.0944,1)" font-size="12.31" class="sf">P</text><text transform="translate(538.15,351.12) scale(1.0054,1)" font-size="8.00" class="sf" fill="#222">b</text>
<text transform="translate(322.69,613.99) scale(1.0251,1)" font-size="11.15" class="sf">t</text><text transform="translate(327.12,616.20) scale(0.9721,1)" font-size="15.75" class="sf">/</text><text transform="translate(332.29,614.10) scale(1.0933,1)" font-size="11.51" class="sf">P</text><text transform="translate(340.28,616.75) scale(1.0019,1)" font-size="7.47" class="sf" fill="#222">b</text>
<g transform="rotate(-90)"><text transform="translate(-126.57,9.08) scale(1.2039,1)" font-size="11.06">Eccentricity</text></g>
<g transform="rotate(-90)"><text transform="translate(-302.36,12.19) scale(1.2489,1)" font-size="11.01">inclination (degree)</text></g>
<g transform="translate(0,506.4) rotate(-90)"><text transform="translate(0.01,165.80) scale(1.0656,1)" font-size="12.98" class="sf">&lt;</text><text transform="translate(8.58,164.39) scale(1.0212,1)" font-size="10.85" class="sf" font-style="italic">τ</text><text transform="translate(13.46,167.50) scale(0.9879,1)" font-size="8.00" class="sf" fill="#222">KL</text><text transform="translate(26.11,165.92) scale(1.0213,1)" font-size="13.54" class="sf">&gt;</text><text transform="translate(35.20,166.54) scale(0.8925,1)" font-size="15.61" class="sf">/</text><text transform="translate(40.54,164.30) scale(1.0435,1)" font-size="11.54" class="sf">P</text><text transform="translate(48.00,167.43) scale(1.0535,1)" font-size="7.43" class="sf" fill="#222">b</text></g>
</svg>
</body></html>
